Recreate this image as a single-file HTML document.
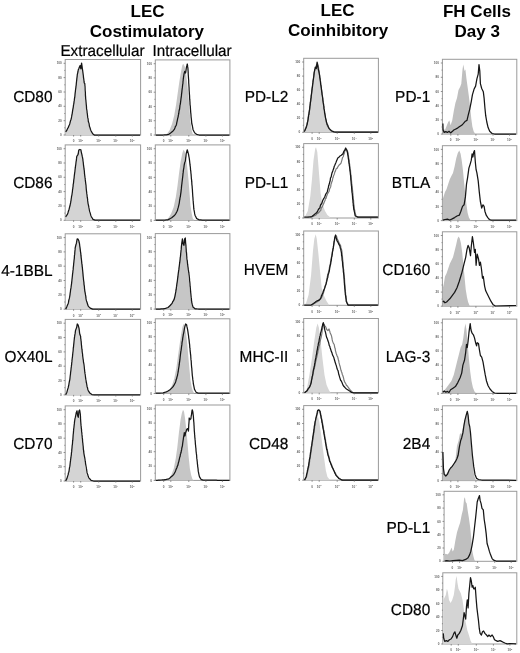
<!DOCTYPE html><html><head><meta charset="utf-8"><style>html,body{margin:0;padding:0;background:#fff;}svg{display:block;will-change:transform;}text{font-family:"Liberation Sans",sans-serif;}</style></head><body>
<svg width="520" height="653" viewBox="0 0 520 653">
<text x="147.6" y="16.6" font-size="17" font-weight="bold" text-anchor="middle" fill="#000">LEC</text>
<text x="146.9" y="37.3" font-size="17" font-weight="bold" text-anchor="middle" fill="#000">Costimulatory</text>
<text transform="translate(102.5,56.0) scale(1,1.03)" font-size="15.3" text-anchor="middle" fill="#000" stroke="#000" stroke-width="0.2" text-rendering="geometricPrecision">Extracellular</text>
<text transform="translate(192.1,56.0) scale(1,1.03)" font-size="15.3" text-anchor="middle" fill="#000" stroke="#000" stroke-width="0.2" text-rendering="geometricPrecision">Intracellular</text>
<text x="337.5" y="16.1" font-size="17" font-weight="bold" text-anchor="middle" fill="#000">LEC</text>
<text x="338.1" y="35.6" font-size="17" font-weight="bold" text-anchor="middle" fill="#000">Coinhibitory</text>
<text x="477.0" y="16.7" font-size="17" font-weight="bold" text-anchor="middle" fill="#000">FH Cells</text>
<text x="477.2" y="36.9" font-size="17" font-weight="bold" text-anchor="middle" fill="#000">Day 3</text>
<text transform="translate(52.5,101.8) scale(1,1.03)" font-size="15.4" text-anchor="end" fill="#000" stroke="#000" stroke-width="0.2" text-rendering="geometricPrecision">CD80</text>
<text transform="translate(52.5,188.1) scale(1,1.03)" font-size="15.4" text-anchor="end" fill="#000" stroke="#000" stroke-width="0.2" text-rendering="geometricPrecision">CD86</text>
<text transform="translate(52.5,275.9) scale(1,1.03)" font-size="15.4" text-anchor="end" fill="#000" stroke="#000" stroke-width="0.2" text-rendering="geometricPrecision">4-1BBL</text>
<text transform="translate(52.5,362.2) scale(1,1.03)" font-size="15.4" text-anchor="end" fill="#000" stroke="#000" stroke-width="0.2" text-rendering="geometricPrecision">OX40L</text>
<text transform="translate(52.5,449.2) scale(1,1.03)" font-size="15.4" text-anchor="end" fill="#000" stroke="#000" stroke-width="0.2" text-rendering="geometricPrecision">CD70</text>
<text transform="translate(288.3,102.0) scale(1,1.03)" font-size="15.4" text-anchor="end" fill="#000" stroke="#000" stroke-width="0.2" text-rendering="geometricPrecision">PD-L2</text>
<text transform="translate(288.3,187.9) scale(1,1.03)" font-size="15.4" text-anchor="end" fill="#000" stroke="#000" stroke-width="0.2" text-rendering="geometricPrecision">PD-L1</text>
<text transform="translate(288.3,275.2) scale(1,1.03)" font-size="15.4" text-anchor="end" fill="#000" stroke="#000" stroke-width="0.2" text-rendering="geometricPrecision">HVEM</text>
<text transform="translate(288.3,361.6) scale(1,1.03)" font-size="15.4" text-anchor="end" fill="#000" stroke="#000" stroke-width="0.2" text-rendering="geometricPrecision">MHC-II</text>
<text transform="translate(288.3,449.0) scale(1,1.03)" font-size="15.4" text-anchor="end" fill="#000" stroke="#000" stroke-width="0.2" text-rendering="geometricPrecision">CD48</text>
<text transform="translate(430.2,101.5) scale(1,1.03)" font-size="15.4" text-anchor="end" fill="#000" stroke="#000" stroke-width="0.2" text-rendering="geometricPrecision">PD-1</text>
<text transform="translate(430.2,188.3) scale(1,1.03)" font-size="15.4" text-anchor="end" fill="#000" stroke="#000" stroke-width="0.2" text-rendering="geometricPrecision">BTLA</text>
<text transform="translate(430.2,275.3) scale(1,1.03)" font-size="15.4" text-anchor="end" fill="#000" stroke="#000" stroke-width="0.2" text-rendering="geometricPrecision">CD160</text>
<text transform="translate(430.2,361.9) scale(1,1.03)" font-size="15.4" text-anchor="end" fill="#000" stroke="#000" stroke-width="0.2" text-rendering="geometricPrecision">LAG-3</text>
<text transform="translate(430.2,448.9) scale(1,1.03)" font-size="15.4" text-anchor="end" fill="#000" stroke="#000" stroke-width="0.2" text-rendering="geometricPrecision">2B4</text>
<text transform="translate(430.2,533.3) scale(1,1.03)" font-size="15.4" text-anchor="end" fill="#000" stroke="#000" stroke-width="0.2" text-rendering="geometricPrecision">PD-L1</text>
<text transform="translate(430.2,614.6) scale(1,1.03)" font-size="15.4" text-anchor="end" fill="#000" stroke="#000" stroke-width="0.2" text-rendering="geometricPrecision">CD80</text>
<rect x="65.2" y="59.5" width="75.4" height="75.5" fill="none" stroke="#9a9a9a" stroke-width="1"/>
<path d="M65.7,135 L65.7,131.8 L66.9,130.2 L68.2,127.7 L69.8,123.7 L71.4,117.1 L73.1,107.3 L74.7,95.9 L76.3,82.8 L77.7,73 L78.8,68.1 L79.9,65.6 L80.9,64.8 L82.1,68.1 L83.2,76.2 L84.2,86.1 L85.2,97.5 L86.2,108.9 L87.5,118.8 L88.8,125.3 L90.2,130.2 L91.9,133.5 L93.5,135 L93.5,135 L65.7,135Z" fill="#d4d4d4"/>
<path d="M65.7,131.8 L66.9,130.2 L67.5,128.6 L68.2,127.7 L68.7,126.2 L69.3,124.9 L69.8,123.7 L70.2,122 L70.6,120.5 L71,119.5 L71.4,117.9 L71.7,116.2 L71.9,114.8 L72.1,114.3 L72.4,112.2 L72.6,110.9 L72.8,109.5 L73.1,108.1 L73.3,106.8 L73.5,105.1 L73.7,104.2 L73.9,103.1 L74.1,101.2 L74.3,100.4 L74.5,98.4 L74.7,97.5 L74.9,96 L75,94.6 L75.2,92.6 L75.4,91.3 L75.5,90 L75.7,88.7 L75.9,87.3 L76,86.1 L76.2,85.2 L76.3,83.6 L76.5,81.8 L76.7,80.2 L76.8,78.9 L77,77.4 L77.2,75.8 L77.3,74.6 L77.7,72.8 L78,71.5 L78.3,69.7 L78.8,68.7 L79.3,67.3 L80.1,65.6 L80.5,67.5 L80.9,68.9 L81.1,67.5 L81.2,65.8 L81.4,64.4 L81.6,63.2 L81.8,64.6 L82,65.8 L82.2,67.3 L82.4,69 L82.6,70.1 L82.8,71.7 L83,73.1 L83.2,74.6 L83.4,76 L83.5,77.7 L83.7,78.7 L83.9,80.2 L84,81.2 L84.2,82.8 L84.8,83.6 L84.9,85.6 L85,86.2 L85.1,88 L85.1,89 L85.2,90.7 L85.3,91.6 L85.4,92.9 L85.4,94.4 L85.5,95.9 L85.6,97.1 L85.7,99 L85.9,100.3 L86,102 L86.1,102.7 L86.2,104.1 L86.4,105.6 L86.5,107.3 L86.6,108.9 L86.8,109.8 L87,111 L87.1,112.6 L87.3,113.6 L87.5,115.3 L87.6,116.5 L87.8,117.9 L88.1,119 L88.3,121.2 L88.6,122.2 L88.9,122.9 L89.2,124.7 L89.4,126.1 L90,127.8 L90.5,129.5 L91.1,131 L91.9,132.4 L92.7,133.8 L94.3,135 L96,135 L97.6,135 L98.9,135 L100.3,135 L101.6,135 L102.9,135 L104.2,135 L105.6,135 L106.9,135 L108.2,135 L109.5,135 L110.9,135 L112.2,135 L113.5,135 L114.9,135 L116.2,135 L117.5,135 L118.8,135 L120.2,135 L121.5,135 L122.8,135 L124.2,135 L125.5,135 L126.8,135 L128.1,135 L129.5,135 L130.8,135 L132.1,135 L133.5,135 L134.8,135 L136.1,135 L137.4,135 L138.8,135 L140.1,135" fill="none" stroke="#161616" stroke-width="1.25" stroke-linejoin="round"/>
<path d="M63.6,135H65.2M64.3,127.8H65.2M63.6,120.7H65.2M64.3,113.5H65.2M63.6,106.3H65.2M64.3,99.1H65.2M63.6,92H65.2M64.3,84.8H65.2M63.6,77.6H65.2M64.3,70.4H65.2M63.6,63.3H65.2M73.6,135V136.6M80.7,135V136.6M98.7,135V136.6M115.8,135V136.6M132.3,135V136.6" stroke="#666" stroke-width="0.7" fill="none"/>
<g font-size="3.1" font-weight="bold" fill="#666"><text x="61.8" y="136.1" text-anchor="end">0</text><text x="61.8" y="121.8" text-anchor="end">20</text><text x="61.8" y="107.4" text-anchor="end">40</text><text x="61.8" y="93.1" text-anchor="end">60</text><text x="61.8" y="78.7" text-anchor="end">80</text><text x="61.8" y="64.4" text-anchor="end">100</text><text x="73.5" y="142.3" text-anchor="middle">0</text><text x="80.6" y="142.3" text-anchor="middle">10<tspan dy="-1.1" font-size="2.2">2</tspan></text><text x="98.6" y="142.3" text-anchor="middle">10<tspan dy="-1.1" font-size="2.2">3</tspan></text><text x="115.7" y="142.3" text-anchor="middle">10<tspan dy="-1.1" font-size="2.2">4</tspan></text><text x="132.2" y="142.3" text-anchor="middle">10<tspan dy="-1.1" font-size="2.2">5</tspan></text></g>
<rect x="65.2" y="144.9" width="75.4" height="75.4" fill="none" stroke="#9a9a9a" stroke-width="1"/>
<path d="M65.7,220.1 L65.7,217.6 L67.4,215.2 L69,210.3 L70.6,203.8 L72.3,193.9 L73.9,180.9 L75.5,167.8 L77.2,156.3 L78.3,152.3 L79.6,149.8 L80.9,150.6 L82.1,154.7 L83.2,162.9 L84.5,174.3 L85.8,187.4 L87.1,200.5 L88.6,210.3 L90.2,216 L91.9,218.8 L94.3,220.1 L94.3,220.3 L65.7,220.3Z" fill="#d4d4d4"/>
<path d="M65.7,216.8 L66.5,215.7 L67.4,214.4 L67.9,213 L68.4,211.3 L69,209.5 L69.3,208.3 L69.6,207 L70,205.8 L70.3,204.2 L70.6,202.9 L70.8,201.4 L71,200.6 L71.2,199 L71.4,197.7 L71.6,196.1 L71.9,195.1 L72.1,193.5 L72.3,192.3 L72.4,191.5 L72.6,189.3 L72.8,188.6 L72.9,187.3 L73.1,186.3 L73.2,184.4 L73.4,183.6 L73.6,182.1 L73.7,180.6 L73.9,179.2 L74.1,178.2 L74.2,176.7 L74.4,174.9 L74.5,174.3 L74.7,172.6 L74.9,171.5 L75,170.3 L75.2,168.6 L75.4,167.2 L75.5,166.2 L75.7,165 L75.9,163.3 L76.1,161.7 L76.3,160.6 L76.5,158.9 L76.6,157.6 L76.8,156.3 L78,154.7 L78.3,153.5 L78.6,151 L79,149.8 L79.9,149.5 L80.9,149.8 L81.2,151.6 L81.6,153.3 L81.9,154.7 L82.2,156.2 L82.6,157.8 L82.9,159.6 L83,161 L83.2,162 L83.4,164 L83.5,165.2 L83.7,166.3 L83.9,167.8 L84,169 L84.2,169.9 L84.4,171.7 L84.5,173.6 L84.7,175.2 L84.8,176 L85,177.4 L85.2,178.6 L85.3,179.9 L85.5,181.6 L85.7,183 L85.8,184.1 L86,185.2 L86.1,186.8 L86.2,188.3 L86.4,190.2 L86.5,191.1 L86.7,192.5 L86.8,193.9 L87,194.9 L87.2,197.2 L87.4,198.2 L87.6,199.2 L87.7,200.9 L87.9,202.3 L88.1,203.8 L88.4,205 L88.7,206.4 L88.9,207.7 L89.2,209.3 L89.5,210.8 L89.8,211.9 L90.3,213.5 L90.8,215.4 L91.4,216.8 L92.2,218 L93,219.3 L95.1,220.1 L96.5,220.1 L97.8,220.1 L99.1,220.1 L100.4,220.1 L101.8,220.1 L103.1,220.1 L104.4,220.1 L105.7,220.1 L107,220.1 L108.4,220.1 L109.7,220.1 L111,220.1 L112.3,220.1 L113.7,220.1 L115,220.1 L116.3,220.1 L117.6,220.1 L118.9,220.1 L120.3,220.1 L121.6,220.1 L122.9,220.1 L124.2,220.1 L125.6,220.1 L126.9,220.1 L128.2,220.1 L129.5,220.1 L130.8,220.1 L132.2,220.1 L133.5,220.1 L134.8,220.1 L136.1,220.1 L137.5,220.1 L138.8,220.1 L140.1,220.1" fill="none" stroke="#161616" stroke-width="1.25" stroke-linejoin="round"/>
<path d="M63.6,220.3H65.2M64.3,213.1H65.2M63.6,206H65.2M64.3,198.8H65.2M63.6,191.6H65.2M64.3,184.5H65.2M63.6,177.3H65.2M64.3,170.2H65.2M63.6,163H65.2M64.3,155.8H65.2M63.6,148.7H65.2M73.6,220.3V221.9M80.7,220.3V221.9M98.7,220.3V221.9M115.8,220.3V221.9M132.3,220.3V221.9" stroke="#666" stroke-width="0.7" fill="none"/>
<g font-size="3.1" font-weight="bold" fill="#666"><text x="61.8" y="221.4" text-anchor="end">0</text><text x="61.8" y="207.1" text-anchor="end">20</text><text x="61.8" y="192.7" text-anchor="end">40</text><text x="61.8" y="178.4" text-anchor="end">60</text><text x="61.8" y="164.1" text-anchor="end">80</text><text x="61.8" y="149.8" text-anchor="end">100</text><text x="73.5" y="227.6" text-anchor="middle">0</text><text x="80.6" y="227.6" text-anchor="middle">10<tspan dy="-1.1" font-size="2.2">2</tspan></text><text x="98.6" y="227.6" text-anchor="middle">10<tspan dy="-1.1" font-size="2.2">3</tspan></text><text x="115.7" y="227.6" text-anchor="middle">10<tspan dy="-1.1" font-size="2.2">4</tspan></text><text x="132.2" y="227.6" text-anchor="middle">10<tspan dy="-1.1" font-size="2.2">5</tspan></text></g>
<rect x="65.2" y="233.8" width="75.4" height="75.4" fill="none" stroke="#9a9a9a" stroke-width="1"/>
<path d="M65.7,309.1 L66.5,307.5 L67.8,304.2 L69.5,297.7 L71.1,287.8 L72.8,274.8 L74.4,258.4 L75.7,247 L76.8,241.3 L78,238.8 L79.1,241.3 L80.3,247 L81.6,256.8 L82.9,269.9 L84.2,282.9 L85.5,294.4 L87.1,302.6 L89.1,307.1 L91.1,309.1 L91.1,309.2 L65.7,309.2Z" fill="#d4d4d4"/>
<path d="M65.7,309.1 L66.3,307.9 L66.9,306.6 L67.5,305.1 L68.2,303.4 L68.5,302.4 L68.8,300.2 L69.2,298.9 L69.5,297.7 L69.8,296 L70,294.6 L70.2,292.9 L70.4,291.8 L70.6,289.7 L70.8,288.8 L71,287.7 L71.2,286.1 L71.4,284.6 L71.6,283.3 L71.7,282.1 L71.9,280.5 L72,279.3 L72.2,277.8 L72.3,276.7 L72.5,274.9 L72.6,273.6 L72.8,272.6 L72.9,271.2 L73.1,269.9 L73.2,269 L73.3,267.1 L73.5,266 L73.6,264.7 L73.7,263.4 L73.9,261.8 L74,260.6 L74.1,259.9 L74.3,258.3 L74.4,256.8 L74.5,255.1 L74.7,254.4 L74.8,252.2 L74.9,251.4 L75.1,249.4 L75.2,247.9 L75.4,247 L75.9,244.8 L76.3,243.7 L76.6,242.2 L76.9,240.3 L77.2,238.8 L78,239.1 L79,241.3 L79.2,242.8 L79.5,243.6 L79.7,245.5 L79.9,247 L80.1,248.4 L80.3,249.8 L80.4,251.1 L80.6,252.1 L80.8,253.6 L80.9,255.2 L81.1,256.6 L81.2,258 L81.4,259.2 L81.6,261 L81.7,262.3 L81.9,263.9 L82.1,265.2 L82.2,266.6 L82.4,267.7 L82.5,269.2 L82.6,270.1 L82.8,272 L82.9,273.4 L83,274.3 L83.1,275.6 L83.3,277.5 L83.4,278.2 L83.5,279.7 L83.7,281 L83.9,282.4 L84,284.3 L84.2,285.4 L84.4,286.7 L84.5,288.6 L84.7,289.8 L84.8,291.1 L85.1,292.5 L85.3,293.7 L85.5,294.9 L85.8,296.4 L86,298.4 L86.2,299.7 L86.5,300.9 L87,302.3 L87.6,304.2 L88.1,305.8 L89.2,307.1 L90.2,308.1 L91.5,308.6 L92.7,309.1 L94,309.1 L95.3,309.1 L96.6,309.1 L98,309.1 L99.3,309.1 L100.6,309.1 L101.9,309.1 L103.2,309.1 L104.5,309.1 L105.9,309.1 L107.2,309.1 L108.5,309.1 L109.8,309.1 L111.1,309.1 L112.4,309.1 L113.8,309.1 L115.1,309.1 L116.4,309.1 L117.7,309.1 L119,309.1 L120.3,309.1 L121.7,309.1 L123,309.1 L124.3,309.1 L125.6,309.1 L126.9,309.1 L128.2,309.1 L129.6,309.1 L130.9,309.1 L132.2,309.1 L133.5,309.1 L134.8,309.1 L136.1,309.1 L137.5,309.1 L138.8,309.1 L140.1,309.1" fill="none" stroke="#161616" stroke-width="1.25" stroke-linejoin="round"/>
<path d="M63.6,309.2H65.2M64.3,302H65.2M63.6,294.9H65.2M64.3,287.7H65.2M63.6,280.5H65.2M64.3,273.4H65.2M63.6,266.2H65.2M64.3,259.1H65.2M63.6,251.9H65.2M64.3,244.7H65.2M63.6,237.6H65.2M73.6,309.2V310.8M80.7,309.2V310.8M98.7,309.2V310.8M115.8,309.2V310.8M132.3,309.2V310.8" stroke="#666" stroke-width="0.7" fill="none"/>
<g font-size="3.1" font-weight="bold" fill="#666"><text x="61.8" y="310.3" text-anchor="end">0</text><text x="61.8" y="296" text-anchor="end">20</text><text x="61.8" y="281.6" text-anchor="end">40</text><text x="61.8" y="267.3" text-anchor="end">60</text><text x="61.8" y="253" text-anchor="end">80</text><text x="61.8" y="238.7" text-anchor="end">100</text><text x="73.5" y="316.5" text-anchor="middle">0</text><text x="80.6" y="316.5" text-anchor="middle">10<tspan dy="-1.1" font-size="2.2">2</tspan></text><text x="98.6" y="316.5" text-anchor="middle">10<tspan dy="-1.1" font-size="2.2">3</tspan></text><text x="115.7" y="316.5" text-anchor="middle">10<tspan dy="-1.1" font-size="2.2">4</tspan></text><text x="132.2" y="316.5" text-anchor="middle">10<tspan dy="-1.1" font-size="2.2">5</tspan></text></g>
<rect x="65.2" y="319.4" width="75.4" height="75.5" fill="none" stroke="#9a9a9a" stroke-width="1"/>
<path d="M65.7,394.8 L66.9,392.6 L68.2,388.6 L69.8,380.4 L71.4,367.3 L73.1,352.6 L74.4,339.5 L75.5,331.3 L76.7,326.4 L77.7,324 L78.6,325.6 L79.6,331.3 L80.9,341.2 L82.2,352.6 L83.5,365.7 L84.8,377.1 L86.5,385.3 L88.1,390.5 L90.2,393.8 L91.9,394.8 L91.9,394.9 L65.7,394.9Z" fill="#d4d4d4"/>
<path d="M65.7,394.8 L66.3,393.5 L66.9,392.2 L67.3,390.6 L67.7,389.1 L68.2,387.7 L68.4,386.5 L68.7,385.5 L69,383.6 L69.3,381.9 L69.5,381 L69.8,379.6 L70,378 L70.1,377 L70.3,375.2 L70.5,374 L70.6,372.3 L70.8,371.1 L71,369.5 L71.1,368.3 L71.3,366.9 L71.4,365.7 L71.6,364.8 L71.7,362.8 L71.9,361.9 L72,360.2 L72.2,358.8 L72.3,357.8 L72.5,356.5 L72.6,355.1 L72.8,353.3 L72.9,352.4 L73.1,351 L73.2,349.8 L73.3,347.8 L73.5,347 L73.6,345.8 L73.7,344.6 L73.9,342.9 L74,341.8 L74.1,340.8 L74.3,339 L74.4,337.9 L74.6,336.7 L74.8,335.1 L75.1,333.7 L75.3,332.2 L75.5,330.5 L76.1,328.9 L76.7,327.3 L77,325.4 L77.3,324 L78,324.8 L78.5,326.4 L79,328.1 L79.2,329.6 L79.4,331 L79.5,332.3 L79.7,333.5 L79.9,334.6 L80.6,336.2 L80.7,338.3 L80.9,339.2 L81,340.5 L81.2,341.6 L81.3,343.3 L81.4,344.5 L81.6,346.1 L81.7,347.5 L81.9,349.2 L82.1,350.2 L82.2,352 L82.4,353 L82.6,354.5 L82.7,356.1 L82.9,357.5 L83.1,359.1 L83.3,360 L83.5,362.2 L83.7,363.1 L83.9,364 L84,364.9 L84.2,366.4 L84.4,368.6 L84.5,369.2 L84.7,371.2 L84.8,372.2 L85,373.7 L85.2,374.7 L85.4,376.4 L85.6,377.9 L85.8,379.2 L86,380.2 L86.2,382 L86.5,383 L86.8,384.8 L87.1,386.7 L87.5,387.7 L87.8,389.4 L88.4,390.8 L89.1,391.9 L89.8,393.1 L91.9,394.6 L94.3,394.8 L95.6,394.8 L96.9,394.8 L98.2,394.8 L99.6,394.8 L100.9,394.8 L102.2,394.8 L103.5,394.8 L104.8,394.8 L106.1,394.8 L107.4,394.8 L108.7,394.8 L110,394.8 L111.3,394.8 L112.6,394.8 L113.9,394.8 L115.3,394.8 L116.6,394.8 L117.9,394.8 L119.2,394.8 L120.5,394.8 L121.8,394.8 L123.1,394.8 L124.4,394.8 L125.7,394.8 L127,394.8 L128.3,394.8 L129.6,394.8 L130.9,394.8 L132.3,394.8 L133.6,394.8 L134.9,394.8 L136.2,394.8 L137.5,394.8 L138.8,394.8 L140.1,394.8" fill="none" stroke="#161616" stroke-width="1.25" stroke-linejoin="round"/>
<path d="M63.6,394.9H65.2M64.3,387.7H65.2M63.6,380.6H65.2M64.3,373.4H65.2M63.6,366.2H65.2M64.3,359H65.2M63.6,351.9H65.2M64.3,344.7H65.2M63.6,337.5H65.2M64.3,330.3H65.2M63.6,323.2H65.2M73.6,394.9V396.5M80.7,394.9V396.5M98.7,394.9V396.5M115.8,394.9V396.5M132.3,394.9V396.5" stroke="#666" stroke-width="0.7" fill="none"/>
<g font-size="3.1" font-weight="bold" fill="#666"><text x="61.8" y="396" text-anchor="end">0</text><text x="61.8" y="381.7" text-anchor="end">20</text><text x="61.8" y="367.3" text-anchor="end">40</text><text x="61.8" y="353" text-anchor="end">60</text><text x="61.8" y="338.6" text-anchor="end">80</text><text x="61.8" y="324.3" text-anchor="end">100</text><text x="73.5" y="402.2" text-anchor="middle">0</text><text x="80.6" y="402.2" text-anchor="middle">10<tspan dy="-1.1" font-size="2.2">2</tspan></text><text x="98.6" y="402.2" text-anchor="middle">10<tspan dy="-1.1" font-size="2.2">3</tspan></text><text x="115.7" y="402.2" text-anchor="middle">10<tspan dy="-1.1" font-size="2.2">4</tspan></text><text x="132.2" y="402.2" text-anchor="middle">10<tspan dy="-1.1" font-size="2.2">5</tspan></text></g>
<rect x="65.2" y="405.9" width="75.4" height="75.1" fill="none" stroke="#9a9a9a" stroke-width="1"/>
<path d="M65.7,481 L66.9,479.1 L68.2,475.4 L69.8,468 L71.4,454.9 L73.1,438.6 L74.4,425.5 L75.7,416.5 L76.8,412.4 L78,410.8 L79.1,413.3 L80.3,420.6 L81.6,432.1 L82.9,445.1 L84.2,458.2 L85.5,468 L87.1,475.4 L89.1,479.5 L91.1,481 L91.1,481 L65.7,481Z" fill="#d4d4d4"/>
<path d="M65.7,481 L66.3,479.8 L66.9,478.6 L67.3,477.3 L67.7,475.9 L68.2,474.6 L68.4,472.9 L68.7,472.2 L69,471.3 L69.3,469.2 L69.5,467.6 L69.8,466.4 L70,465.1 L70.1,464.1 L70.3,462.2 L70.5,460.9 L70.6,459.7 L70.8,458.3 L71,457.2 L71.1,456 L71.3,455.2 L71.4,453.3 L71.6,451.9 L71.7,451.4 L71.8,449.4 L72,448 L72.1,446.6 L72.2,445.4 L72.4,444.3 L72.5,443.2 L72.6,441.3 L72.8,440.2 L72.9,439 L73,437.4 L73.1,436 L73.2,434.5 L73.4,433 L73.5,431.4 L73.6,430.4 L73.7,428.8 L73.9,427.8 L74.1,425.9 L74.2,424.8 L74.4,423.4 L74.5,421.8 L74.7,420.6 L75,418.6 L75.4,417.2 L75.7,415.7 L76,414.1 L76.3,412.4 L77,410.8 L77.2,412.4 L77.4,414.1 L77.7,415.7 L78.3,417.3 L78.4,415.9 L78.6,414.6 L78.7,413.5 L78.8,412.1 L79,410.8 L79.6,410 L79.8,410.9 L80.1,412.8 L80.3,414.1 L80.4,415.3 L80.5,417 L80.5,418.1 L80.6,419.4 L80.7,421.1 L80.8,422.5 L80.9,423.9 L81.1,425.9 L81.2,426.5 L81.3,428.1 L81.5,429.2 L81.6,431.4 L81.8,432.6 L81.9,433.7 L82,434.9 L82.2,436.4 L82.3,437.9 L82.5,439.1 L82.6,441.3 L82.7,442.3 L82.9,443.5 L83,445 L83.2,446.3 L83.3,448.1 L83.4,449.5 L83.6,450.4 L83.7,451.7 L83.9,453.3 L84.2,455.1 L84.5,456.7 L84.8,458.2 L85,459.5 L85.2,461.2 L85.4,462.2 L85.6,463.8 L85.8,464.8 L86,466 L86.3,467.5 L86.5,468.9 L86.7,470.1 L86.9,471.5 L87.1,472.9 L87.7,474.5 L88.2,476.3 L88.8,477.8 L89.9,479 L91.1,480.3 L93.5,481 L94.8,481 L96.2,481 L97.5,481 L98.8,481 L100.2,481 L101.5,481 L102.8,481 L104.2,481 L105.5,481 L106.8,481 L108.2,481 L109.5,481 L110.8,481 L112.1,481 L113.5,481 L114.8,481 L116.1,481 L117.5,481 L118.8,481 L120.1,481 L121.5,481 L122.8,481 L124.1,481 L125.5,481 L126.8,481 L128.1,481 L129.4,481 L130.8,481 L132.1,481 L133.4,481 L134.8,481 L136.1,481 L137.4,481 L138.8,481 L140.1,481" fill="none" stroke="#161616" stroke-width="1.25" stroke-linejoin="round"/>
<path d="M63.6,481H65.2M64.3,473.9H65.2M63.6,466.7H65.2M64.3,459.6H65.2M63.6,452.5H65.2M64.3,445.3H65.2M63.6,438.2H65.2M64.3,431.1H65.2M63.6,423.9H65.2M64.3,416.8H65.2M63.6,409.7H65.2M73.6,481V482.6M80.7,481V482.6M98.7,481V482.6M115.8,481V482.6M132.3,481V482.6" stroke="#666" stroke-width="0.7" fill="none"/>
<g font-size="3.1" font-weight="bold" fill="#666"><text x="61.8" y="482.1" text-anchor="end">0</text><text x="61.8" y="467.8" text-anchor="end">20</text><text x="61.8" y="453.6" text-anchor="end">40</text><text x="61.8" y="439.3" text-anchor="end">60</text><text x="61.8" y="425" text-anchor="end">80</text><text x="61.8" y="410.8" text-anchor="end">100</text><text x="73.5" y="488.3" text-anchor="middle">0</text><text x="80.6" y="488.3" text-anchor="middle">10<tspan dy="-1.1" font-size="2.2">2</tspan></text><text x="98.6" y="488.3" text-anchor="middle">10<tspan dy="-1.1" font-size="2.2">3</tspan></text><text x="115.7" y="488.3" text-anchor="middle">10<tspan dy="-1.1" font-size="2.2">4</tspan></text><text x="132.2" y="488.3" text-anchor="middle">10<tspan dy="-1.1" font-size="2.2">5</tspan></text></g>
<rect x="155.3" y="59.9" width="74.6" height="75.1" fill="none" stroke="#9a9a9a" stroke-width="1"/>
<path d="M164.7,135 L167.2,133.5 L169.6,130.2 L172.1,123.7 L174.2,115.5 L176.2,104 L177.8,92.6 L179.4,81.2 L181.1,71.3 L182.4,64.8 L183.5,64 L184.7,66.4 L186,73 L187.3,84.4 L188.6,97.5 L189.6,110.6 L190.5,122 L191.7,130.2 L192.8,134.3 L194.1,135 L194.1,135 L164.7,135Z" fill="#c6c6c6"/>
<path d="M155.8,135 L157.3,135 L158.7,135 L160.2,135 L161.6,135 L163.1,135 L164.7,134.9 L166.3,134.8 L168.8,134.3 L170,133.4 L171.2,132.6 L172.5,131.6 L173.7,130.2 L174.3,129.4 L174.9,128 L175.5,126.3 L176.2,125.3 L176.5,124.4 L176.8,122.5 L177.1,121.3 L177.5,119.3 L177.8,117.9 L178.1,117.1 L178.3,115.4 L178.6,114.4 L178.8,113.2 L179,111.3 L179.3,109.6 L179.5,109.8 L179.8,107.3 L180,105.2 L180.2,104.5 L180.4,103.7 L180.6,101.9 L180.8,100.4 L181,98.7 L181.2,97.3 L181.4,95.9 L181.5,94.6 L181.7,93.1 L181.9,91.4 L182,90.3 L182.2,88.6 L182.4,87.4 L182.5,86.2 L182.7,84.4 L182.9,83.7 L183,81.7 L183.2,80.3 L183.3,78.8 L183.5,77.5 L183.7,76.2 L184,74.2 L184.3,72.8 L184.7,71.3 L185.6,73 L185.9,71.2 L186.1,69.6 L186.3,68.1 L186.6,66.5 L186.9,65.5 L187.3,64 L187.5,65.1 L187.7,66.9 L187.9,68.1 L188,69.6 L188.1,71 L188.2,72.6 L188.2,73.6 L188.3,75.2 L188.4,76.5 L188.5,78.2 L188.6,79.5 L188.7,80.8 L188.7,82.7 L188.8,83.8 L188.9,85.2 L189,86.7 L189.1,88.1 L189.1,89.1 L189.2,91 L189.3,92 L189.4,94.1 L189.5,94.9 L189.6,96.4 L189.6,97.1 L189.7,99.2 L189.8,99.9 L189.9,101.4 L190,102.7 L190,104 L190.2,105.6 L190.3,106 L190.4,107.9 L190.5,109.3 L190.6,110.6 L190.7,112.3 L190.9,113.8 L191,115.2 L191.1,116.8 L191.3,118.4 L191.4,119.3 L191.6,121.3 L191.7,122.6 L191.8,123.7 L192.1,124.7 L192.4,126 L192.7,127.7 L193,129.4 L193.7,130.9 L194.5,132.6 L195.5,133.5 L196.6,134.3 L199,135 L200.4,135 L201.7,135 L203,135 L204.3,135 L205.6,135 L207,135 L208.3,135 L209.6,135 L210.9,135 L212.2,135 L213.6,135 L214.9,135 L216.2,135 L217.5,135 L218.8,135 L220.2,135 L221.5,135 L222.8,135 L224.1,135 L225.4,135 L226.8,135 L228.1,135 L229.4,135" fill="none" stroke="#161616" stroke-width="1.25" stroke-linejoin="round"/>
<path d="M153.7,135H155.3M154.4,127.9H155.3M153.7,120.7H155.3M154.4,113.6H155.3M153.7,106.5H155.3M154.4,99.3H155.3M153.7,92.2H155.3M154.4,85.1H155.3M153.7,77.9H155.3M154.4,70.8H155.3M153.7,63.7H155.3M163.7,135V136.6M170.8,135V136.6M188.8,135V136.6M205.9,135V136.6M222.4,135V136.6" stroke="#666" stroke-width="0.7" fill="none"/>
<g font-size="3.1" font-weight="bold" fill="#666"><text x="151.9" y="136.1" text-anchor="end">0</text><text x="151.9" y="121.8" text-anchor="end">20</text><text x="151.9" y="107.6" text-anchor="end">40</text><text x="151.9" y="93.3" text-anchor="end">60</text><text x="151.9" y="79" text-anchor="end">80</text><text x="151.9" y="64.8" text-anchor="end">100</text><text x="163.6" y="142.3" text-anchor="middle">0</text><text x="170.7" y="142.3" text-anchor="middle">10<tspan dy="-1.1" font-size="2.2">2</tspan></text><text x="188.7" y="142.3" text-anchor="middle">10<tspan dy="-1.1" font-size="2.2">3</tspan></text><text x="205.8" y="142.3" text-anchor="middle">10<tspan dy="-1.1" font-size="2.2">4</tspan></text><text x="222.3" y="142.3" text-anchor="middle">10<tspan dy="-1.1" font-size="2.2">5</tspan></text></g>
<rect x="155.3" y="144.9" width="74.6" height="75.5" fill="none" stroke="#9a9a9a" stroke-width="1"/>
<path d="M166.3,220.1 L168.8,217.6 L171.2,213.6 L173.7,207 L175.8,197.2 L177.5,185.8 L179.1,172.7 L180.7,161.2 L182.4,153.1 L183.5,149.8 L184.7,151.4 L186,158 L187.3,167.8 L188.6,180.9 L189.6,193.9 L190.5,205.4 L191.7,213.6 L192.8,218.5 L194.1,220.1 L194.1,220.4 L166.3,220.4Z" fill="#c6c6c6"/>
<path d="M155.8,220.1 L157.3,220.1 L158.8,220.1 L160.3,220.1 L161.7,220.1 L163.2,220.1 L164.7,220.1 L166.3,219.9 L168,219.8 L169.2,219.1 L170.4,218.5 L171.7,217.8 L172.9,216.8 L174.1,215.8 L175.3,214.4 L176,213.2 L176.8,211.7 L177.5,210.3 L177.8,208.9 L178.1,207.9 L178.4,206.8 L178.8,205.1 L179.1,203.8 L179.3,202.8 L179.6,200.4 L179.8,199.7 L180,197.9 L180.3,196.8 L180.5,195.3 L180.7,193.9 L180.9,192.6 L181.1,191 L181.2,189.8 L181.4,188.4 L181.5,186.9 L181.7,185 L181.9,183.6 L182,182.5 L182.2,181 L182.4,179.3 L182.5,178.3 L182.7,176.9 L182.9,175 L183,173.7 L183.2,172.4 L183.3,171.1 L183.5,169.7 L183.7,168.6 L183.9,167.5 L184.1,165.7 L184.3,164.5 L184.8,162.3 L185.3,161.2 L185.5,160.1 L185.6,158.9 L185.8,157.7 L186,155.9 L186.1,154.5 L186.3,153.1 L186.8,151.5 L187.3,149.8 L187.8,151.6 L188.2,153.1 L188.6,154.7 L188.9,156.5 L189.2,158 L189.4,159.4 L189.6,160.8 L189.7,162 L189.9,163.6 L190,164.7 L190.2,166.2 L190.4,167.4 L190.5,169.4 L190.6,170.5 L190.8,171.3 L190.9,173 L191.1,174.4 L191.2,176 L191.3,177.3 L191.4,178.8 L191.6,179.9 L191.7,181.7 L191.8,182.4 L191.9,184.6 L192.1,185.8 L192.2,187.4 L192.3,188.8 L192.4,189.5 L192.5,191.7 L192.6,193.2 L192.7,194.7 L192.8,196.5 L192.9,197.1 L193,198.8 L193.1,200.4 L193.2,200.8 L193.3,202.7 L193.5,204.8 L193.6,205.8 L193.7,207.6 L193.8,208.7 L194,209.9 L194.3,211.4 L194.5,212.5 L194.7,213.9 L195,215.2 L195.8,216.7 L196.6,218.5 L197.8,219.1 L199,219.8 L200.7,219.9 L202.3,220.1 L203.7,220.1 L205,220.1 L206.4,220.1 L207.7,220.1 L209.1,220.1 L210.4,220.1 L211.8,220.1 L213.1,220.1 L214.5,220.1 L215.9,220.1 L217.2,220.1 L218.6,220.1 L219.9,220.1 L221.3,220.1 L222.6,220.1 L224,220.1 L225.3,220.1 L226.7,220.1 L228,220.1 L229.4,220.1" fill="none" stroke="#161616" stroke-width="1.25" stroke-linejoin="round"/>
<path d="M153.7,220.4H155.3M154.4,213.2H155.3M153.7,206.1H155.3M154.4,198.9H155.3M153.7,191.7H155.3M154.4,184.5H155.3M153.7,177.4H155.3M154.4,170.2H155.3M153.7,163H155.3M154.4,155.8H155.3M153.7,148.7H155.3M163.7,220.4V222M170.8,220.4V222M188.8,220.4V222M205.9,220.4V222M222.4,220.4V222" stroke="#666" stroke-width="0.7" fill="none"/>
<g font-size="3.1" font-weight="bold" fill="#666"><text x="151.9" y="221.5" text-anchor="end">0</text><text x="151.9" y="207.2" text-anchor="end">20</text><text x="151.9" y="192.8" text-anchor="end">40</text><text x="151.9" y="178.5" text-anchor="end">60</text><text x="151.9" y="164.1" text-anchor="end">80</text><text x="151.9" y="149.8" text-anchor="end">100</text><text x="163.6" y="227.7" text-anchor="middle">0</text><text x="170.7" y="227.7" text-anchor="middle">10<tspan dy="-1.1" font-size="2.2">2</tspan></text><text x="188.7" y="227.7" text-anchor="middle">10<tspan dy="-1.1" font-size="2.2">3</tspan></text><text x="205.8" y="227.7" text-anchor="middle">10<tspan dy="-1.1" font-size="2.2">4</tspan></text><text x="222.3" y="227.7" text-anchor="middle">10<tspan dy="-1.1" font-size="2.2">5</tspan></text></g>
<rect x="155.3" y="233.6" width="74.6" height="75.5" fill="none" stroke="#9a9a9a" stroke-width="1"/>
<path d="M165.5,309.1 L168,307.5 L170.4,305 L172.9,300.9 L174.8,294.4 L176.5,284.6 L178.1,273.1 L179.8,260.1 L181.1,250.2 L182.2,242.1 L183.2,239.6 L184.3,241.3 L185.3,245.3 L186.3,253.5 L187.6,265 L188.7,278 L189.7,289.5 L190.9,299.3 L192.2,305.8 L193.8,309.1 L193.8,309.1 L165.5,309.1Z" fill="#c6c6c6"/>
<path d="M155.8,309.1 L157.1,309.1 L158.5,309.1 L159.8,309.1 L161.4,308.9 L163.1,308.8 L165.5,308.3 L168,307.5 L169.9,305.8 L171,304.5 L172.1,303.4 L172.8,301.5 L173.5,300.8 L174.2,299.3 L174.6,297.6 L175,296.1 L175.3,294.4 L175.6,292.7 L175.8,291.7 L176,290.2 L176.2,289.5 L176.4,287.5 L176.6,286.2 L176.8,284.6 L177,283.1 L177.2,282.1 L177.4,280.6 L177.6,278.9 L177.7,277.9 L177.9,277 L178.1,274.8 L178.3,273.2 L178.5,271.8 L178.7,270.3 L178.9,269.4 L179,268.1 L179.2,266.6 L179.4,265 L179.6,263.3 L179.8,262.2 L179.9,261.1 L180.1,259.6 L180.2,257.8 L180.4,256.7 L180.6,255.1 L180.7,253.5 L180.9,252 L181,250.7 L181.2,249.4 L181.3,247.9 L181.4,246.4 L181.6,244.8 L181.7,243.6 L181.9,242.1 L182.1,241 L182.4,238.8 L182.6,240.3 L182.8,241.6 L183,243.7 L184,245.3 L184.1,243.9 L184.3,242.7 L184.4,241.5 L184.5,240 L184.7,238.8 L185.3,238 L185.4,239.5 L185.5,240.9 L185.6,242.6 L185.7,243.6 L185.9,245.1 L186,247 L186.1,248.4 L186.2,249.6 L186.3,251.8 L186.5,252.5 L186.6,253.9 L186.7,255.8 L186.8,256.7 L186.9,258.4 L187.1,259.9 L187.3,260.9 L187.4,262.3 L187.6,264.2 L187.8,265.5 L187.9,266.6 L188.1,267.6 L188.3,269.4 L188.5,270.5 L188.7,272.2 L188.9,273.1 L189,274.3 L189.2,275.7 L189.3,276.8 L189.5,278.5 L189.6,280.4 L189.7,281.3 L189.9,282.9 L190,284.3 L190.1,286.2 L190.3,287.5 L190.4,288.7 L190.5,290.1 L190.6,291.7 L190.7,292.5 L190.9,294.4 L191,295.6 L191.2,297.4 L191.4,298.6 L191.5,300.6 L191.7,301.4 L191.8,302.6 L192.2,304.2 L192.6,305.6 L193,307.1 L195,308.8 L196.3,308.9 L197.7,309 L199,309.1 L200.4,309.1 L201.7,309.1 L203,309.1 L204.3,309.1 L205.6,309.1 L207,309.1 L208.3,309.1 L209.6,309.1 L210.9,309.1 L212.2,309.1 L213.6,309.1 L214.9,309.1 L216.2,309.1 L217.5,309.1 L218.8,309.1 L220.2,309.1 L221.5,309.1 L222.8,309.1 L224.1,309.1 L225.4,309.1 L226.8,309.1 L228.1,309.1 L229.4,309.1" fill="none" stroke="#161616" stroke-width="1.25" stroke-linejoin="round"/>
<path d="M153.7,309.1H155.3M154.4,301.9H155.3M153.7,294.8H155.3M154.4,287.6H155.3M153.7,280.4H155.3M154.4,273.2H155.3M153.7,266.1H155.3M154.4,258.9H155.3M153.7,251.7H155.3M154.4,244.5H155.3M153.7,237.4H155.3M163.7,309.1V310.7M170.8,309.1V310.7M188.8,309.1V310.7M205.9,309.1V310.7M222.4,309.1V310.7" stroke="#666" stroke-width="0.7" fill="none"/>
<g font-size="3.1" font-weight="bold" fill="#666"><text x="151.9" y="310.2" text-anchor="end">0</text><text x="151.9" y="295.9" text-anchor="end">20</text><text x="151.9" y="281.5" text-anchor="end">40</text><text x="151.9" y="267.2" text-anchor="end">60</text><text x="151.9" y="252.8" text-anchor="end">80</text><text x="151.9" y="238.5" text-anchor="end">100</text><text x="163.6" y="316.4" text-anchor="middle">0</text><text x="170.7" y="316.4" text-anchor="middle">10<tspan dy="-1.1" font-size="2.2">2</tspan></text><text x="188.7" y="316.4" text-anchor="middle">10<tspan dy="-1.1" font-size="2.2">3</tspan></text><text x="205.8" y="316.4" text-anchor="middle">10<tspan dy="-1.1" font-size="2.2">4</tspan></text><text x="222.3" y="316.4" text-anchor="middle">10<tspan dy="-1.1" font-size="2.2">5</tspan></text></g>
<rect x="155.3" y="318.8" width="74.6" height="74.7" fill="none" stroke="#9a9a9a" stroke-width="1"/>
<path d="M164.7,393.1 L167.2,391.5 L169.6,389.4 L172.1,385.3 L174.2,378.8 L176.2,368.9 L177.8,357.5 L179.4,346.1 L181.1,334.6 L182.4,327.3 L183.5,324 L184.7,325.6 L186,333 L187.3,344.4 L188.4,357.5 L189.6,370.6 L190.5,380.4 L191.7,386.9 L192.8,391 L194.1,393.1 L194.1,393.5 L164.7,393.5Z" fill="#c6c6c6"/>
<path d="M155.8,393.1 L157.1,393.1 L158.5,393.1 L159.8,393.1 L161.4,393 L163.1,392.8 L165.5,392.2 L166.8,391.6 L168,391 L169.2,390.2 L170.4,389.4 L171.7,388.1 L172.9,386.9 L173.7,385.7 L174.5,384.2 L175.3,382.8 L175.8,381.4 L176.2,379.6 L176.6,378.8 L177,376.9 L177.5,375.5 L177.7,373.7 L177.9,373.2 L178.2,371.7 L178.4,370 L178.6,368.6 L178.9,367 L179.1,365.7 L179.3,364.2 L179.4,362.8 L179.6,362 L179.8,360.4 L179.9,359.7 L180.1,357.8 L180.2,356.8 L180.4,355 L180.6,353.4 L180.7,352.6 L180.9,351.2 L181.1,350.2 L181.3,348.8 L181.5,347 L181.7,345.6 L181.9,344.4 L182,342.8 L182.3,341.2 L182.5,340.4 L182.7,338.4 L182.9,337.1 L183.1,336 L183.3,334.6 L183.6,333.3 L183.9,331.8 L184.1,330.7 L184.4,328.9 L184.7,327.3 L185.1,325.8 L185.6,324 L186.6,324.8 L186.9,326.4 L187.3,328.1 L187.6,329.7 L187.8,330.9 L188,332.1 L188.2,333.7 L188.4,335 L188.6,336.2 L188.7,337.6 L188.9,338.8 L189.1,340.1 L189.2,341.1 L189.4,343.1 L189.6,344.4 L189.7,345.6 L189.8,347.6 L190,348.3 L190.1,349.9 L190.3,352.1 L190.4,352.6 L190.5,354.2 L190.7,355.3 L190.8,357.4 L190.9,358.5 L191,359.9 L191.2,360.9 L191.3,362.7 L191.4,364.7 L191.5,365.7 L191.6,367 L191.8,368.3 L191.9,370.1 L192,371.3 L192.1,372.7 L192.2,373.9 L192.3,375.5 L192.5,376.7 L192.7,378.4 L192.8,379.4 L193,380.6 L193.2,382 L193.3,383.7 L193.6,384.9 L193.9,386.4 L194.2,387.8 L194.5,389.4 L195.3,390.8 L196.1,392.2 L198.2,393.1 L199.6,393.1 L200.9,393.1 L202.3,393.1 L203.6,393.1 L205,393.1 L206.4,393.1 L207.7,393.1 L209.1,393.1 L210.4,393.1 L211.8,393.1 L213.1,393.1 L214.5,393.1 L215.8,393.1 L217.2,393.1 L218.6,393.1 L219.9,393.1 L221.3,393.1 L222.6,393.1 L224,393.1 L225.3,393.1 L226.7,393.1 L228,393.1 L229.4,393.1" fill="none" stroke="#161616" stroke-width="1.25" stroke-linejoin="round"/>
<path d="M153.7,393.5H155.3M154.4,386.4H155.3M153.7,379.3H155.3M154.4,372.2H155.3M153.7,365.1H155.3M154.4,358H155.3M153.7,350.9H155.3M154.4,343.8H155.3M153.7,336.7H155.3M154.4,329.6H155.3M153.7,322.5H155.3M163.7,393.5V395.1M170.8,393.5V395.1M188.8,393.5V395.1M205.9,393.5V395.1M222.4,393.5V395.1" stroke="#666" stroke-width="0.7" fill="none"/>
<g font-size="3.1" font-weight="bold" fill="#666"><text x="151.9" y="394.6" text-anchor="end">0</text><text x="151.9" y="380.4" text-anchor="end">20</text><text x="151.9" y="366.2" text-anchor="end">40</text><text x="151.9" y="352" text-anchor="end">60</text><text x="151.9" y="337.8" text-anchor="end">80</text><text x="151.9" y="323.6" text-anchor="end">100</text><text x="163.6" y="400.8" text-anchor="middle">0</text><text x="170.7" y="400.8" text-anchor="middle">10<tspan dy="-1.1" font-size="2.2">2</tspan></text><text x="188.7" y="400.8" text-anchor="middle">10<tspan dy="-1.1" font-size="2.2">3</tspan></text><text x="205.8" y="400.8" text-anchor="middle">10<tspan dy="-1.1" font-size="2.2">4</tspan></text><text x="222.3" y="400.8" text-anchor="middle">10<tspan dy="-1.1" font-size="2.2">5</tspan></text></g>
<rect x="155.3" y="405" width="74.6" height="75.4" fill="none" stroke="#9a9a9a" stroke-width="1"/>
<path d="M166.3,480.4 L168.8,478.5 L171.2,475.2 L173.7,468.7 L175.7,458.8 L177.3,447.4 L178.9,432.7 L180.6,419.6 L181.9,413.1 L183,409.8 L184,411.4 L185,418 L186.3,429.4 L187.6,444.1 L188.7,457.2 L189.9,468.7 L191.2,475.2 L192.5,479.3 L193.8,480.4 L193.8,480.4 L166.3,480.4Z" fill="#c6c6c6"/>
<path d="M155.8,480.4 L157.1,480.3 L158.5,480.2 L159.8,480.1 L161.2,480 L162.5,479.9 L163.9,479.8 L166.3,479.4 L168.8,478.8 L170,477.9 L171.2,476.8 L172.5,475.8 L173.7,474.4 L174.4,473.3 L175.1,472 L175.8,470.3 L176.3,468.8 L176.8,468 L177.3,466.3 L177.8,465.4 L178.1,464.1 L178.4,462.7 L178.8,461.6 L179.1,460.1 L179.4,458.8 L179.8,456.9 L180.1,456.5 L180.4,454.3 L180.7,453.5 L181.1,452.3 L181.3,451 L181.6,449.9 L181.8,448.2 L182.1,447 L182.4,445.8 L182.6,444.2 L182.7,443.2 L182.9,441.8 L183.1,440.4 L183.3,439.3 L183.5,437.6 L183.8,435.9 L184.1,434.3 L184.3,432.7 L184.7,434.1 L185,436 L185.3,434.2 L185.6,432.7 L186.1,431.6 L186.6,429.4 L187.6,428.6 L188.4,431.1 L188.5,430.1 L188.6,428.1 L188.7,426.8 L188.7,426.2 L188.8,424.4 L188.9,423.5 L189,422.1 L189.1,421 L189.1,419.4 L189.2,418 L190,419.6 L190.9,418.8 L191.1,417 L191.3,415.5 L191.5,414.8 L191.7,413.1 L192,410.7 L192.3,409.8 L192.7,411.2 L193,413.1 L193.1,414.3 L193.3,415.7 L193.4,416.6 L193.5,418.2 L193.6,419.6 L193.7,421.1 L193.8,422 L193.9,422.9 L194,425.3 L194.1,425.9 L194.1,427.3 L194.2,428.5 L194.3,430.6 L194.4,431.7 L194.5,432.7 L194.6,434.4 L194.7,435 L194.8,437.1 L195,438.6 L195.1,439.9 L195.2,440.9 L195.3,442.3 L195.4,444.1 L195.6,445.5 L195.7,447 L195.9,448.3 L196,450.3 L196.1,451.5 L196.3,452.8 L196.4,453.9 L196.6,455.2 L196.7,456.8 L196.8,458.4 L197,459.5 L197.1,460.6 L197.3,462.2 L197.4,463.8 L197.6,464.8 L197.7,466.6 L197.9,467.7 L198.1,469.1 L198.2,470.8 L198.4,471.9 L198.8,473.8 L199.1,475.3 L199.5,476.8 L200.3,478.1 L201,479.3 L203.1,480.1 L204.4,480.1 L205.8,480.1 L207.1,480.1 L208.4,480.2 L209.7,480.2 L211,480.2 L212.3,480.2 L213.6,480.2 L214.9,480.2 L216.3,480.2 L217.6,480.3 L218.9,480.3 L220.2,480.3 L221.5,480.3 L222.8,480.3 L224.1,480.3 L225.5,480.4 L226.8,480.4 L228.1,480.4 L229.4,480.4" fill="none" stroke="#161616" stroke-width="1.25" stroke-linejoin="round"/>
<path d="M153.7,480.4H155.3M154.4,473.2H155.3M153.7,466.1H155.3M154.4,458.9H155.3M153.7,451.7H155.3M154.4,444.6H155.3M153.7,437.4H155.3M154.4,430.3H155.3M153.7,423.1H155.3M154.4,415.9H155.3M153.7,408.8H155.3M163.7,480.4V482M170.8,480.4V482M188.8,480.4V482M205.9,480.4V482M222.4,480.4V482" stroke="#666" stroke-width="0.7" fill="none"/>
<g font-size="3.1" font-weight="bold" fill="#666"><text x="151.9" y="481.5" text-anchor="end">0</text><text x="151.9" y="467.2" text-anchor="end">20</text><text x="151.9" y="452.8" text-anchor="end">40</text><text x="151.9" y="438.5" text-anchor="end">60</text><text x="151.9" y="424.2" text-anchor="end">80</text><text x="151.9" y="409.9" text-anchor="end">100</text><text x="163.6" y="487.7" text-anchor="middle">0</text><text x="170.7" y="487.7" text-anchor="middle">10<tspan dy="-1.1" font-size="2.2">2</tspan></text><text x="188.7" y="487.7" text-anchor="middle">10<tspan dy="-1.1" font-size="2.2">3</tspan></text><text x="205.8" y="487.7" text-anchor="middle">10<tspan dy="-1.1" font-size="2.2">4</tspan></text><text x="222.3" y="487.7" text-anchor="middle">10<tspan dy="-1.1" font-size="2.2">5</tspan></text></g>
<rect x="303.7" y="58.3" width="74.7" height="74" fill="none" stroke="#9a9a9a" stroke-width="1"/>
<path d="M304.2,132.1 L304.5,130.8 L306.2,127.6 L308.1,119.4 L309.8,107.9 L311.4,94.9 L313,81.8 L314.3,72 L315.7,66.3 L316.8,63.8 L317.9,66.3 L319.2,73.6 L320.6,83.4 L321.9,94.9 L323.2,106.3 L324.5,116.1 L326.1,124.3 L328.2,129.2 L330.7,131.6 L332.3,132.1 L332.3,132.3 L304.2,132.3Z" fill="#d4d4d4"/>
<path d="M304.2,131.2 L304.9,130 L305.4,128.5 L306,127 L306.5,125.9 L306.8,124.4 L307.2,122.7 L307.5,122 L307.8,119.8 L308.1,118.6 L308.3,117.2 L308.5,114.7 L308.7,113.5 L309,112.3 L309.2,111.4 L309.4,109.8 L309.6,108.7 L309.8,107.1 L309.9,106.5 L310.1,104.7 L310.3,103.3 L310.4,101.3 L310.6,100.4 L310.8,98.9 L310.9,98.2 L311.1,97.3 L311.2,95 L311.4,94 L311.6,93.1 L311.7,91.8 L311.9,89.5 L312.1,88.8 L312.2,87.4 L312.4,86 L312.5,85.4 L312.7,84.2 L312.9,82.1 L313,81 L313.3,79.7 L313.5,77.7 L313.7,75.9 L313.9,74.7 L314.1,72.7 L314.3,72 L314.7,71 L315,69.2 L315.3,67.9 L315.8,67.6 L316.3,65.4 L317.3,63.8 L317.8,65 L318.3,66.3 L318.5,67.2 L318.8,69.6 L319,70.8 L319.2,72 L319.4,73.6 L319.6,75 L319.8,76.3 L320,77.8 L320.2,78.3 L320.4,80.9 L320.6,81.8 L320.7,83.5 L320.9,84.7 L321.1,85.7 L321.3,87.1 L321.5,89.7 L321.7,89.9 L321.9,91.6 L322.1,92.9 L322.2,94.3 L322.4,95.1 L322.6,97.8 L322.8,98.3 L323,100.3 L323.2,101.4 L323.4,102.7 L323.5,104.2 L323.7,105 L323.9,107 L324.1,108.8 L324.3,109.7 L324.5,111.2 L324.7,112.6 L324.9,113.7 L325.1,115.8 L325.4,117.2 L325.6,118.4 L325.8,119.4 L326.1,120.8 L326.4,122.5 L326.8,123.3 L327.1,125.4 L327.4,125.9 L328.1,127.1 L328.7,128.2 L329.4,129.5 L330.4,130.3 L331.5,131.2 L334,132 L335.6,132.1 L337.2,132.1 L338.5,132.1 L339.9,132.1 L341.2,132.1 L342.5,132.1 L343.8,132.1 L345.1,132.1 L346.4,132.1 L347.7,132.1 L349,132.1 L350.3,132.1 L351.7,132.1 L353,132.1 L354.3,132.1 L355.6,132.1 L356.9,132.1 L358.2,132.1 L359.5,132.1 L360.8,132.1 L362.2,132.1 L363.5,132.1 L364.8,132.1 L366.1,132.1 L367.4,132.1 L368.7,132.1 L370,132.1 L371.3,132.1 L372.7,132.1 L374,132.1 L375.3,132.1 L376.6,132.1 L377.9,132.1" fill="none" stroke="#7a7a7a" stroke-width="1.2" stroke-linejoin="round"/>
<path d="M304.2,131.6 L304.9,130.5 L305.4,129.3 L306,128 L306.5,126.7 L306.8,125.4 L307.2,124.2 L307.5,122.4 L307.8,121.1 L308.1,119.4 L308.3,117.5 L308.5,116.7 L308.7,114.7 L309,114.5 L309.2,111.8 L309.4,110.9 L309.6,109.9 L309.8,107.9 L309.9,106.5 L310.1,105.5 L310.3,103.5 L310.4,102.3 L310.6,102 L310.8,100.3 L310.9,98.6 L311.1,98 L311.2,96.2 L311.4,94.9 L311.6,93.3 L311.7,92.3 L311.9,90.7 L312.1,89.1 L312.2,87.9 L312.4,87.5 L312.5,86.4 L312.7,84.2 L312.9,82.9 L313,81.8 L313.2,80.2 L313.4,79.3 L313.6,77.6 L313.8,76.3 L314,74.4 L314.2,72.6 L314.3,72 L314.7,69.8 L315,68.9 L315.3,67.1 L316.3,68.7 L316.5,67.5 L316.6,66 L316.8,64.4 L317,63 L317.1,62.2 L317.4,63.2 L317.7,65.4 L317.9,67.1 L318.3,69.5 L318.6,70.5 L318.9,72 L319.1,72.7 L319.4,74.6 L319.6,75.5 L319.8,77.8 L320,78.7 L320.2,80.2 L320.4,81.2 L320.6,83.6 L320.8,84.9 L321,85.9 L321.2,87.4 L321.4,88.7 L321.5,90 L321.7,91.5 L321.9,93 L322.1,95 L322.3,95.3 L322.5,97 L322.7,98.2 L322.8,99.8 L323,101.4 L323.2,102.9 L323.4,103.4 L323.6,105.4 L323.8,106.1 L324,108.9 L324.2,109.6 L324.4,110.5 L324.6,113.1 L324.8,113.6 L325,114.7 L325.2,115.7 L325.5,117.8 L325.8,119 L326.1,120.1 L326.4,122 L326.8,123 L327.1,124.3 L327.8,125.2 L328.4,127 L329.1,128.4 L330.3,129.6 L331.5,130.8 L332.9,131.4 L334.3,132 L335.8,132.1 L337.2,132.1 L338.5,132.1 L339.9,132.1 L341.2,132.1 L342.5,132.1 L343.8,132.1 L345.1,132.1 L346.4,132.1 L347.7,132.1 L349,132.1 L350.3,132.1 L351.7,132.1 L353,132.1 L354.3,132.1 L355.6,132.1 L356.9,132.1 L358.2,132.1 L359.5,132.1 L360.8,132.1 L362.2,132.1 L363.5,132.1 L364.8,132.1 L366.1,132.1 L367.4,132.1 L368.7,132.1 L370,132.1 L371.3,132.1 L372.7,132.1 L374,132.1 L375.3,132.1 L376.6,132.1 L377.9,132.1" fill="none" stroke="#161616" stroke-width="1.25" stroke-linejoin="round"/>
<path d="M302.1,132.3H303.7M302.8,125.3H303.7M302.1,118.2H303.7M302.8,111.2H303.7M302.1,104.2H303.7M302.8,97.2H303.7M302.1,90.1H303.7M302.8,83.1H303.7M302.1,76.1H303.7M302.8,69H303.7M302.1,62H303.7M312.1,132.3V133.9M319.2,132.3V133.9M337.2,132.3V133.9M354.3,132.3V133.9M370.8,132.3V133.9" stroke="#666" stroke-width="0.7" fill="none"/>
<g font-size="3.1" font-weight="bold" fill="#666"><text x="300.3" y="133.4" text-anchor="end">0</text><text x="300.3" y="119.3" text-anchor="end">20</text><text x="300.3" y="105.3" text-anchor="end">40</text><text x="300.3" y="91.2" text-anchor="end">60</text><text x="300.3" y="77.2" text-anchor="end">80</text><text x="300.3" y="63.1" text-anchor="end">100</text><text x="312" y="139.6" text-anchor="middle">0</text><text x="319.1" y="139.6" text-anchor="middle">10<tspan dy="-1.1" font-size="2.2">2</tspan></text><text x="337.1" y="139.6" text-anchor="middle">10<tspan dy="-1.1" font-size="2.2">3</tspan></text><text x="354.2" y="139.6" text-anchor="middle">10<tspan dy="-1.1" font-size="2.2">4</tspan></text><text x="370.7" y="139.6" text-anchor="middle">10<tspan dy="-1.1" font-size="2.2">5</tspan></text></g>
<rect x="303.7" y="143.6" width="74.7" height="74.4" fill="none" stroke="#9a9a9a" stroke-width="1"/>
<path d="M304.2,217.1 L305.4,215.8 L307.8,210.9 L310.3,196.2 L311.9,179.9 L313.5,160.2 L315.2,148.8 L316,147.2 L317.3,152.1 L318.9,171.7 L320.6,192.9 L322.5,204.4 L325,210.9 L327.4,215 L329.9,217.1 L329.9,218 L304.2,218Z" fill="#d6d6d6"/>
<path d="M307.8,217.1 L309.4,217 L311.1,216.8 L312.7,216.6 L314.3,215.8 L316,215 L317,213.6 L318,213.2 L319,212.3 L320.1,210.9 L320.7,210.5 L321.4,207.7 L322,207.2 L322.7,205.9 L323.3,204.4 L323.9,203.1 L324.4,201.5 L325,200.6 L325.5,198.2 L326.1,198.3 L326.6,196.2 L327.2,194.7 L327.8,193.3 L328.4,192.5 L329.1,191.3 L329.5,189.4 L329.9,188.3 L330.3,187.6 L330.7,186.7 L331.1,183.8 L331.5,183.1 L331.9,181.4 L332.3,181.1 L332.7,178.5 L333.1,177.6 L333.6,175.5 L334,175 L334.5,173.4 L334.9,171.9 L335.4,171.1 L335.9,169.4 L336.4,168.4 L337.2,168.3 L338,166.6 L338.9,165.2 L340.8,163.5 L341.3,162.2 L341.7,160.8 L342.1,159.3 L342.5,157.7 L343,157 L343.4,156.3 L343.8,153.7 L344.2,153.9 L344.6,152.1 L345,149 L345.4,148.8 L346.2,150.6 L347,150.9 L347.9,152.1 L348.1,153.7 L348.3,154.8 L348.5,156.2 L348.7,158.2 L348.9,159.6 L349.1,160.1 L349.3,162.4 L349.5,163.5 L349.7,164.5 L349.8,165.7 L350,167.9 L350.1,168.7 L350.3,170.4 L350.5,170.4 L350.6,172.2 L350.8,174.5 L351,174.8 L351.1,176.6 L351.3,178 L351.4,179.8 L351.5,180.4 L351.7,183.1 L351.8,184.2 L351.9,184.8 L352.1,186.1 L352.2,188.2 L352.4,188.1 L352.5,189.9 L352.6,190.7 L352.8,192.9 L352.9,193.7 L353,195.4 L353.2,197.2 L353.3,199.2 L353.4,199.7 L353.6,200.7 L353.7,202.9 L353.8,204.5 L354,204.8 L354.1,206.4 L354.3,208.3 L354.4,209.3 L354.7,210.1 L355,212.4 L355.4,213.9 L355.7,214.7 L356,216.2 L357.3,216.6 L358.5,217.1 L359.9,217.1 L361.3,217.1 L362.6,217.1 L364,217.1 L365.4,217.1 L366.8,217.1 L368.2,217.1 L369.6,217.1 L371,217.1 L372.4,217.1 L373.7,217.1 L375.1,217.1 L376.5,217.1 L377.9,217.1" fill="none" stroke="#7a7a7a" stroke-width="1.2" stroke-linejoin="round"/>
<path d="M304.2,217.1 L306,217.1 L307.8,217.1 L309.2,217 L310.5,216.8 L311.9,216.6 L313.1,215.6 L314.3,214.5 L315.6,213.6 L316.8,212.6 L317.6,211.1 L318.4,209.5 L319.2,208.5 L319.8,208.1 L320.3,205.9 L320.9,204.1 L321.4,204.1 L322,202.9 L322.5,201.1 L323.1,199.7 L323.7,198.6 L324.4,197.5 L325,196.2 L325.8,194 L326.6,192.9 L327.2,192 L327.7,189.9 L328.2,188 L328.6,186.2 L328.9,185.3 L329.2,184 L329.5,183.1 L329.9,181.5 L330.2,180.5 L330.5,177.9 L330.9,177.4 L331.2,176.8 L331.5,175 L332.1,172.6 L332.6,171.6 L333.1,170.1 L333.7,168.6 L334.2,166.5 L334.8,165.2 L335.4,163.7 L336,162.4 L336.6,160.8 L337.2,159.4 L338,157.8 L338.9,157.3 L339.7,156.2 L341.3,155.3 L343,153.7 L343.8,151.4 L344.6,150.4 L345.2,149.8 L345.7,148 L346.4,149.2 L347,150.4 L347.3,151.9 L347.5,153 L347.7,154.4 L348,155.9 L348.2,157.3 L348.4,159 L348.7,160.2 L348.8,161.8 L349,163.5 L349.2,164.1 L349.3,165.5 L349.5,166.5 L349.7,168.4 L349.8,168.8 L350,171.1 L350.1,171.5 L350.3,173.3 L350.4,174.5 L350.6,175.7 L350.7,177.3 L350.8,179.3 L350.9,180.2 L351.1,182 L351.2,183.5 L351.3,184.4 L351.4,185.4 L351.6,186.7 L351.7,188.9 L351.8,189.9 L351.9,191.3 L352.1,192.9 L352.2,193.2 L352.4,195.1 L352.5,196.3 L352.6,198.3 L352.8,199.6 L352.9,200.2 L353,202.6 L353.2,203.3 L353.3,205.6 L353.4,205.3 L353.6,207.7 L353.8,209.5 L354.1,210.3 L354.4,211.9 L354.7,213.1 L354.9,214.4 L355.2,215.8 L356.4,216.5 L357.7,217.1 L359,217.1 L360.4,217.1 L361.7,217.1 L363.1,217.1 L364.4,217.1 L365.8,217.1 L367.1,217.1 L368.5,217.1 L369.8,217.1 L371.2,217.1 L372.5,217.1 L373.9,217.1 L375.2,217.1 L376.6,217.1 L377.9,217.1" fill="none" stroke="#161616" stroke-width="1.25" stroke-linejoin="round"/>
<path d="M302.1,218H303.7M302.8,210.9H303.7M302.1,203.9H303.7M302.8,196.8H303.7M302.1,189.7H303.7M302.8,182.7H303.7M302.1,175.6H303.7M302.8,168.5H303.7M302.1,161.5H303.7M302.8,154.4H303.7M302.1,147.3H303.7M312.1,218V219.6M319.2,218V219.6M337.2,218V219.6M354.3,218V219.6M370.8,218V219.6" stroke="#666" stroke-width="0.7" fill="none"/>
<g font-size="3.1" font-weight="bold" fill="#666"><text x="300.3" y="219.1" text-anchor="end">0</text><text x="300.3" y="205" text-anchor="end">20</text><text x="300.3" y="190.8" text-anchor="end">40</text><text x="300.3" y="176.7" text-anchor="end">60</text><text x="300.3" y="162.6" text-anchor="end">80</text><text x="300.3" y="148.4" text-anchor="end">100</text><text x="312" y="225.3" text-anchor="middle">0</text><text x="319.1" y="225.3" text-anchor="middle">10<tspan dy="-1.1" font-size="2.2">2</tspan></text><text x="337.1" y="225.3" text-anchor="middle">10<tspan dy="-1.1" font-size="2.2">3</tspan></text><text x="354.2" y="225.3" text-anchor="middle">10<tspan dy="-1.1" font-size="2.2">4</tspan></text><text x="370.7" y="225.3" text-anchor="middle">10<tspan dy="-1.1" font-size="2.2">5</tspan></text></g>
<rect x="303.7" y="231" width="74.7" height="74.3" fill="none" stroke="#9a9a9a" stroke-width="1"/>
<path d="M304.5,305 L306.2,302.8 L308.6,294.7 L311.1,275 L313,250.5 L314.3,239.1 L315.7,234.2 L316.8,239.1 L318.4,253.8 L320.1,271.8 L321.7,288.1 L324.2,296.3 L326.6,301.2 L329.1,305 L329.1,305.3 L304.5,305.3Z" fill="#d6d6d6"/>
<path d="M311.1,305 L312.7,304.2 L314.3,303.5 L315.6,302.7 L316.8,302 L318,301.2 L319.2,300.4 L320.1,299.4 L320.9,298.5 L321.7,297.1 L322.2,296.4 L322.7,294.5 L323.2,293.5 L323.7,292 L324.2,290.6 L324.5,288.5 L324.9,287.2 L325.3,285.8 L325.7,284.8 L326.1,283.2 L326.4,281.5 L326.7,280.1 L326.9,279.6 L327.2,277.1 L327.5,275.9 L327.8,275 L328.1,273.5 L328.4,272.5 L328.7,271.2 L329.1,270 L329.4,267.7 L329.7,266.3 L329.9,264.9 L330.2,264.5 L330.5,262.7 L330.7,260.7 L331,259.5 L331.3,257.8 L331.5,257 L331.7,256 L332,253.9 L332.2,252.8 L332.4,251.7 L332.7,250.5 L332.9,248.7 L333.2,247.9 L333.4,246.1 L333.7,245.1 L334,243.2 L334.2,242 L334.5,241 L334.7,239.5 L335,238.2 L335.3,236.6 L336.2,235.8 L336.7,236.7 L337.2,239.1 L337.9,240.1 L338.5,241.5 L339.4,243.7 L340.2,244.8 L340.6,245.6 L341,247.9 L341.4,249.2 L341.8,250.5 L342,252 L342.1,253.8 L342.2,255.2 L342.4,255.7 L342.5,257.4 L342.7,259.7 L342.8,260 L343,262 L343.1,263.1 L343.2,265 L343.3,265.8 L343.4,267.9 L343.5,268.9 L343.7,269.6 L343.8,270.4 L343.9,273 L344,273.5 L344.1,275.6 L344.3,276.7 L344.4,277.8 L344.5,278.7 L344.6,280.4 L344.7,282.3 L344.8,283.8 L344.9,284.7 L345,286 L345.1,287.2 L345.2,289.7 L345.3,290 L345.4,291.4 L345.6,293.3 L345.7,294.8 L345.9,296.1 L346.1,296.7 L346.2,298 L346.4,299.7 L346.5,301.2 L347.1,302.5 L347.7,303.7 L348.3,305 L349.7,305 L351,305 L352.4,305 L353.7,305 L355.1,305 L356.4,305 L357.7,305 L359.1,305 L360.4,305 L361.8,305 L363.1,305 L364.5,305 L365.8,305 L367.2,305 L368.5,305 L369.8,305 L371.2,305 L372.5,305 L373.9,305 L375.2,305 L376.6,305 L377.9,305" fill="none" stroke="#7a7a7a" stroke-width="1.2" stroke-linejoin="round"/>
<path d="M304.2,305 L305.6,305 L307,305 L308.3,305 L309.7,305 L311.1,305 L312.3,304.3 L313.5,303.6 L314.8,302.6 L316,301.5 L317.2,300.8 L318.4,300.4 L319.7,299.6 L320.9,297.9 L321.4,295.9 L321.9,295.1 L322.4,293.8 L322.8,293 L323.3,291.4 L323.8,290 L324.3,288.9 L324.8,287.7 L325.3,285.9 L325.8,284.8 L326.1,283.9 L326.4,282.6 L326.8,281.2 L327.1,279.4 L327.4,278.3 L327.8,277.4 L328.1,274.6 L328.4,274.1 L328.7,273.2 L329.1,271.8 L329.3,271.1 L329.6,269 L329.9,267.1 L330.1,265.9 L330.4,265.1 L330.7,263.6 L330.9,261.6 L331.2,261 L331.4,259.4 L331.6,257.3 L331.9,256.5 L332.1,255.1 L332.3,253.8 L332.5,251.9 L332.8,250.6 L333,249 L333.2,248.6 L333.4,247.4 L333.6,245.6 L333.8,244.1 L334,242.3 L334.2,241.5 L334.4,240 L334.6,238.8 L334.8,237.4 L335.6,235 L335.9,236.7 L336.2,237.9 L336.6,239 L336.9,240.7 L338,242.3 L338.9,244.4 L339.7,245.6 L340,246.7 L340.3,248.2 L340.7,249 L341,250.7 L341.3,252.2 L341.5,253.4 L341.6,255.6 L341.8,256.1 L342,257.8 L342.1,259.8 L342.3,261 L342.5,262 L342.6,264 L342.7,265.5 L342.9,266.8 L343,267.4 L343.1,268.1 L343.2,268.7 L343.4,272.2 L343.5,272.1 L343.6,273.2 L343.8,275 L343.9,275.7 L344,278.2 L344.1,278.9 L344.2,280.7 L344.3,282.5 L344.4,283.1 L344.5,285.1 L344.6,285.5 L344.8,288.3 L344.9,289 L345,289.9 L345.1,291.4 L345.2,292.4 L345.4,295.1 L345.6,295.6 L345.7,296.7 L345.9,298.2 L346.1,299.4 L346.2,301.2 L346.8,302.6 L347.3,303.6 L347.9,305 L349.2,305 L350.5,305 L351.8,305 L353.1,305 L354.4,305 L355.7,305 L357,305 L358.3,305 L359.6,305 L360.9,305 L362.2,305 L363.5,305 L364.8,305 L366.1,305 L367.4,305 L368.8,305 L370.1,305 L371.4,305 L372.7,305 L374,305 L375.3,305 L376.6,305 L377.9,305" fill="none" stroke="#161616" stroke-width="1.25" stroke-linejoin="round"/>
<path d="M302.1,305.3H303.7M302.8,298.2H303.7M302.1,291.2H303.7M302.8,284.1H303.7M302.1,277.1H303.7M302.8,270H303.7M302.1,262.9H303.7M302.8,255.9H303.7M302.1,248.8H303.7M302.8,241.8H303.7M302.1,234.7H303.7M312.1,305.3V306.9M319.2,305.3V306.9M337.2,305.3V306.9M354.3,305.3V306.9M370.8,305.3V306.9" stroke="#666" stroke-width="0.7" fill="none"/>
<g font-size="3.1" font-weight="bold" fill="#666"><text x="300.3" y="306.4" text-anchor="end">0</text><text x="300.3" y="292.3" text-anchor="end">20</text><text x="300.3" y="278.2" text-anchor="end">40</text><text x="300.3" y="264" text-anchor="end">60</text><text x="300.3" y="249.9" text-anchor="end">80</text><text x="300.3" y="235.8" text-anchor="end">100</text><text x="312" y="312.6" text-anchor="middle">0</text><text x="319.1" y="312.6" text-anchor="middle">10<tspan dy="-1.1" font-size="2.2">2</tspan></text><text x="337.1" y="312.6" text-anchor="middle">10<tspan dy="-1.1" font-size="2.2">3</tspan></text><text x="354.2" y="312.6" text-anchor="middle">10<tspan dy="-1.1" font-size="2.2">4</tspan></text><text x="370.7" y="312.6" text-anchor="middle">10<tspan dy="-1.1" font-size="2.2">5</tspan></text></g>
<rect x="303.7" y="318.5" width="74.7" height="74.3" fill="none" stroke="#9a9a9a" stroke-width="1"/>
<path d="M304.5,392.8 L307,388.2 L309.4,375.1 L311.9,358.8 L314.3,340.8 L316.3,327.7 L317.6,323.6 L318.9,327.7 L320.6,340.8 L322.5,358.8 L324.5,375.1 L326.6,384.9 L329.1,390.6 L330.7,392.8 L330.7,392.8 L304.5,392.8Z" fill="#d6d6d6"/>
<path d="M304.5,392.8 L306,391.6 L307.5,390.5 L308.2,389.1 L308.9,387.7 L309.6,386.6 L310.3,385.5 L310.7,384.1 L311,382.8 L311.3,381.1 L311.7,379.7 L312,378.7 L312.3,377.5 L312.7,375.7 L312.9,374.2 L313.2,373.5 L313.5,372 L313.8,370.1 L314.1,369 L314.4,368.1 L314.7,366.7 L315,365.3 L315.2,364.2 L315.5,362.4 L315.8,361.3 L316.1,360 L316.4,358.1 L316.7,357.5 L317,356.2 L317.3,354.9 L317.6,353.4 L317.9,352 L318.2,349.3 L318.5,349.7 L318.8,348.2 L319.1,346.2 L319.5,345.1 L319.8,343.9 L320,341.6 L320.3,341.1 L320.6,339.3 L320.9,338.3 L321.2,337 L321.4,336.1 L321.7,334.4 L321.9,333.4 L322.1,331.1 L322.3,329.8 L322.6,329 L322.8,327.1 L323.1,325.5 L323.4,324 L324.1,324.3 L324.8,325.9 L325.6,326.7 L326.2,327.9 L326.7,329.5 L327.9,330.7 L329,329 L329.4,330.3 L329.8,331.4 L330.2,333 L331.3,335.3 L331.6,336.3 L331.9,337.9 L332.2,339.7 L332.5,341.1 L333.4,343.4 L334.2,344.5 L334.5,346.2 L334.8,347.8 L335.1,348.2 L335.4,350.3 L335.8,351.8 L336.2,353.5 L336.7,354.8 L337.1,356.1 L337.7,356.8 L338.3,359.5 L338.7,360.7 L339,362.7 L339.4,364.2 L339.8,365.8 L340.2,366.8 L340.6,368.8 L341,370.3 L341.4,371.5 L341.9,372.7 L342.3,374.5 L342.7,375.2 L343.2,376.8 L343.6,378.1 L344,380.3 L344.9,382.4 L345.8,383.8 L346.5,385.5 L347.3,385.9 L348.1,387.2 L349.2,388.7 L350.4,390.1 L351.5,391.3 L352.7,392.4 L354.4,392.8 L355.7,392.8 L357,392.8 L358.3,392.8 L359.6,392.8 L360.9,392.8 L362.2,392.8 L363.6,392.8 L364.9,392.8 L366.2,392.8 L367.5,392.8 L368.8,392.8 L370.1,392.8 L371.4,392.8 L372.7,392.8 L374,392.8 L375.3,392.8 L376.6,392.8 L377.9,392.8" fill="none" stroke="#7a7a7a" stroke-width="1.2" stroke-linejoin="round"/>
<path d="M304.5,392.8 L305.8,391.7 L307.1,390.7 L307.8,389.4 L308.6,388 L309.3,387.7 L310,386.1 L310.6,384.5 L311.2,382.6 L311.4,381.6 L311.6,379.8 L311.9,378.6 L312.1,376.9 L312.4,376 L312.6,375.1 L312.9,373.4 L313.1,371.5 L313.4,370.1 L313.6,369 L313.9,368.4 L314.1,366.5 L314.4,366.4 L314.6,364.2 L314.9,362.9 L315.1,361.4 L315.4,360 L315.6,358.9 L315.9,357.4 L316.1,356 L316.3,354.9 L316.6,354 L316.8,351.9 L317.1,350.5 L317.3,349.6 L317.6,347.8 L317.8,346.3 L318.1,345.7 L318.3,344.2 L318.6,342.6 L318.8,342.6 L319.1,340.8 L319.3,339 L319.6,338.2 L319.8,336.5 L320.2,335.7 L320.5,333.4 L320.8,332.4 L321.2,331.1 L321.5,329.5 L321.8,328.6 L322.1,326.7 L322.4,326.1 L322.7,324.3 L323.3,322.6 L323.7,324.4 L324.1,326.1 L324.4,327.7 L324.7,329.3 L325,330.7 L325.5,332.4 L325.9,334.2 L326.3,336.1 L326.7,337.6 L327.5,339.3 L328,341.1 L328.5,342.2 L328.9,343.9 L329.3,345.7 L329.8,346.3 L330.2,348 L330.8,349.8 L331.3,351.4 L331.9,352.6 L332.5,354.9 L333.1,356 L333.7,357.2 L334.1,358.6 L334.5,360 L335,361.7 L335.4,363 L335.8,364.3 L336.2,365.3 L336.7,367.2 L337.1,368.8 L337.5,369.8 L338,370.5 L338.4,372.3 L338.8,374.5 L339.3,375.9 L339.7,377.3 L340.1,378.6 L340.6,380.3 L341.3,381 L342.1,382.7 L342.9,384.9 L343.8,386.3 L344.8,387.3 L345.8,388.4 L346.9,389.2 L348.1,390 L349.2,390.7 L350.4,391.5 L351.5,392.4 L353.8,392.8 L355.2,392.8 L356.5,392.8 L357.9,392.8 L359.2,392.8 L360.5,392.8 L361.9,392.8 L363.2,392.8 L364.5,392.8 L365.9,392.8 L367.2,392.8 L368.5,392.8 L369.9,392.8 L371.2,392.8 L372.6,392.8 L373.9,392.8 L375.2,392.8 L376.6,392.8 L377.9,392.8" fill="none" stroke="#161616" stroke-width="1.25" stroke-linejoin="round"/>
<path d="M302.1,392.8H303.7M302.8,385.7H303.7M302.1,378.7H303.7M302.8,371.6H303.7M302.1,364.6H303.7M302.8,357.5H303.7M302.1,350.4H303.7M302.8,343.4H303.7M302.1,336.3H303.7M302.8,329.3H303.7M302.1,322.2H303.7M312.1,392.8V394.4M319.2,392.8V394.4M337.2,392.8V394.4M354.3,392.8V394.4M370.8,392.8V394.4" stroke="#666" stroke-width="0.7" fill="none"/>
<g font-size="3.1" font-weight="bold" fill="#666"><text x="300.3" y="393.9" text-anchor="end">0</text><text x="300.3" y="379.8" text-anchor="end">20</text><text x="300.3" y="365.7" text-anchor="end">40</text><text x="300.3" y="351.5" text-anchor="end">60</text><text x="300.3" y="337.4" text-anchor="end">80</text><text x="300.3" y="323.3" text-anchor="end">100</text><text x="312" y="400.1" text-anchor="middle">0</text><text x="319.1" y="400.1" text-anchor="middle">10<tspan dy="-1.1" font-size="2.2">2</tspan></text><text x="337.1" y="400.1" text-anchor="middle">10<tspan dy="-1.1" font-size="2.2">3</tspan></text><text x="354.2" y="400.1" text-anchor="middle">10<tspan dy="-1.1" font-size="2.2">4</tspan></text><text x="370.7" y="400.1" text-anchor="middle">10<tspan dy="-1.1" font-size="2.2">5</tspan></text></g>
<rect x="303.7" y="405.6" width="74.7" height="74.6" fill="none" stroke="#9a9a9a" stroke-width="1"/>
<path d="M304.5,480.1 L307,475.2 L309.4,462.1 L311.9,445.8 L314.3,429.4 L316.3,419.6 L317.9,416.3 L319.2,421.2 L320.9,432.7 L322.5,445.8 L324.2,458.8 L325.8,470.3 L327.4,476.8 L329.9,480.1 L329.9,480.2 L304.5,480.2Z" fill="#d6d6d6"/>
<path d="M304.5,480.1 L305.5,478.5 L306.5,476.8 L306.8,475.6 L307,474.4 L307.3,473.1 L307.6,471.9 L307.9,470.8 L308.1,469.2 L308.4,467.9 L308.7,467.4 L309,465.4 L309.2,463.5 L309.4,462.5 L309.6,461.9 L309.8,459.3 L310,458.9 L310.2,457.1 L310.4,455.8 L310.6,454.7 L310.8,454.1 L311,451.9 L311.2,450.7 L311.4,449 L311.6,448.2 L311.8,446.2 L312,445.4 L312.2,444.2 L312.4,442.3 L312.6,441.3 L312.8,440.3 L313,438.1 L313.2,436.8 L313.4,435.4 L313.7,434 L313.9,432.7 L314.1,431.1 L314.3,430.3 L314.5,428.2 L314.7,426.4 L314.9,425.3 L315.1,424.2 L315.3,422.2 L315.5,421.2 L315.8,419.3 L316.1,417.3 L316.5,417 L316.8,416.1 L317.1,413.9 L317.5,413.3 L317.9,411 L318.3,410.1 L319.6,410.6 L320.1,412.5 L320.6,413.1 L320.9,415.3 L321.2,415.3 L321.5,418 L321.8,419.3 L322.1,420.8 L322.3,421.2 L322.6,423.7 L322.8,424.5 L323.1,426.4 L323.3,426.7 L323.5,429 L323.8,430.6 L324,430.9 L324.2,433.4 L324.5,434.3 L324.7,435.5 L325,437.3 L325.2,438.2 L325.5,439.9 L325.7,441.4 L326,443.2 L326.2,444.2 L326.4,445.8 L326.7,446.7 L327,449.1 L327.3,449.5 L327.5,450.8 L327.8,452.2 L328.1,453.9 L328.5,455.2 L328.9,456.7 L329.3,458.3 L329.6,459.4 L330,461.3 L330.5,462.6 L331,463.6 L331.5,464.5 L332,466.2 L332.7,468.5 L333.3,469.5 L334,470.6 L334.7,472.2 L335.5,473.1 L336.2,475.2 L337.2,476.2 L338.2,477.4 L339.2,478.5 L340.8,479.3 L342.5,480.1 L343.8,480.1 L345.1,480.1 L346.4,480.1 L347.7,480.1 L349,480.1 L350.3,480.1 L351.6,480.1 L353,480.1 L354.3,480.1 L355.6,480.1 L356.9,480.1 L358.2,480.1 L359.5,480.1 L360.8,480.1 L362.1,480.1 L363.5,480.1 L364.8,480.1 L366.1,480.1 L367.4,480.1 L368.7,480.1 L370,480.1 L371.3,480.1 L372.6,480.1 L374,480.1 L375.3,480.1 L376.6,480.1 L377.9,480.1" fill="none" stroke="#7a7a7a" stroke-width="1.2" stroke-linejoin="round"/>
<path d="M304.5,480.1 L305.4,478.4 L306.2,476.8 L306.4,475.7 L306.7,473.9 L307,473.1 L307.3,471.6 L307.5,470.1 L307.8,469.2 L308.1,467.5 L308.4,466.5 L308.6,465.4 L308.8,464.1 L309,462.4 L309.2,461.3 L309.4,459.7 L309.6,458.9 L309.9,457.6 L310.1,456.4 L310.3,454.3 L310.5,452.7 L310.7,451.9 L310.9,450.6 L311.1,449 L311.3,447.1 L311.5,446.5 L311.7,445.4 L311.9,443.7 L312.1,442.2 L312.3,440.8 L312.5,439.7 L312.7,438.2 L312.9,436.4 L313.1,435.6 L313.3,434.1 L313.5,432.7 L313.7,432 L313.9,429.5 L314.1,428.8 L314.3,426.3 L314.6,425.3 L314.8,423.8 L315,422.4 L315.2,421.2 L315.5,420.4 L315.8,418.7 L316.1,417.6 L316.5,415.5 L316.8,414.7 L317.1,413.3 L317.3,412 L317.6,410.6 L318.9,409.8 L320.1,411.4 L320.3,413.5 L320.6,415.2 L320.9,416.3 L321.1,418.1 L321.4,418.8 L321.7,420.1 L321.9,422.4 L322.2,422.9 L322.4,424.4 L322.7,426.4 L322.9,427.8 L323.1,428.6 L323.4,430 L323.6,430.7 L323.8,432.7 L324.1,434.5 L324.3,435.4 L324.6,437.5 L324.8,438.7 L325.1,439.7 L325.3,440.7 L325.5,442.8 L325.8,444.1 L326.1,446.1 L326.3,447 L326.6,449.3 L326.9,449.4 L327.2,451.1 L327.4,452.3 L327.8,454.4 L328.1,455.6 L328.4,456.1 L328.7,457.2 L329.1,458.3 L329.4,460.5 L329.9,461.8 L330.4,462.3 L331,464.4 L331.5,465.4 L332,466.9 L332.6,468 L333.1,468.6 L333.6,470.3 L334.2,471.3 L334.8,473.1 L335.4,474 L335.9,475.2 L336.9,476.3 L337.9,477.4 L338.9,478.5 L340.5,479.3 L342.1,480.1 L343.5,480.1 L344.8,480.1 L346.1,480.1 L347.4,480.1 L348.8,480.1 L350.1,480.1 L351.4,480.1 L352.7,480.1 L354.1,480.1 L355.4,480.1 L356.7,480.1 L358,480.1 L359.4,480.1 L360.7,480.1 L362,480.1 L363.3,480.1 L364.7,480.1 L366,480.1 L367.3,480.1 L368.6,480.1 L370,480.1 L371.3,480.1 L372.6,480.1 L373.9,480.1 L375.3,480.1 L376.6,480.1 L377.9,480.1" fill="none" stroke="#161616" stroke-width="1.25" stroke-linejoin="round"/>
<path d="M302.1,480.2H303.7M302.8,473.1H303.7M302.1,466H303.7M302.8,458.9H303.7M302.1,451.9H303.7M302.8,444.8H303.7M302.1,437.7H303.7M302.8,430.6H303.7M302.1,423.5H303.7M302.8,416.4H303.7M302.1,409.3H303.7M312.1,480.2V481.8M319.2,480.2V481.8M337.2,480.2V481.8M354.3,480.2V481.8M370.8,480.2V481.8" stroke="#666" stroke-width="0.7" fill="none"/>
<g font-size="3.1" font-weight="bold" fill="#666"><text x="300.3" y="481.3" text-anchor="end">0</text><text x="300.3" y="467.1" text-anchor="end">20</text><text x="300.3" y="453" text-anchor="end">40</text><text x="300.3" y="438.8" text-anchor="end">60</text><text x="300.3" y="424.6" text-anchor="end">80</text><text x="300.3" y="410.4" text-anchor="end">100</text><text x="312" y="487.5" text-anchor="middle">0</text><text x="319.1" y="487.5" text-anchor="middle">10<tspan dy="-1.1" font-size="2.2">2</tspan></text><text x="337.1" y="487.5" text-anchor="middle">10<tspan dy="-1.1" font-size="2.2">3</tspan></text><text x="354.2" y="487.5" text-anchor="middle">10<tspan dy="-1.1" font-size="2.2">4</tspan></text><text x="370.7" y="487.5" text-anchor="middle">10<tspan dy="-1.1" font-size="2.2">5</tspan></text></g>
<rect x="442.4" y="59.3" width="74.4" height="74.8" fill="none" stroke="#9a9a9a" stroke-width="1"/>
<path d="M442.9,134 L442.9,130 L443.4,128.4 L445,130 L446.6,126 L448.2,122 L449.4,120.4 L450.6,125.2 L452.2,120.4 L453.8,110.9 L455.4,102.9 L457,98.1 L458.5,90.1 L460.1,86.9 L461.3,83.7 L462.5,69.4 L463.3,64.6 L464.5,71 L465.4,69.4 L466.5,78.9 L467.6,86.9 L468.9,96.5 L470.2,107.7 L471.3,118.8 L472.4,126.8 L473.7,131.6 L475.3,134 L475.3,134.1 L442.9,134.1Z" fill="#bfbfbf"/>
<path d="M442.9,123.6 L443.1,130 L444.2,132.4 L445.8,131.6 L447.4,132.4 L449,131.3 L450.6,132.9 L452.2,131.6 L453.8,130 L455.4,129.2 L457,128.4 L459.3,126.8 L461.7,125.2 L463.3,123.6 L465.4,121.2 L467,120.4 L468.1,115.7 L469.7,109.3 L471.3,101.3 L472.4,94.9 L474,89.3 L475.6,86.1 L476.9,78.9 L478.2,74.2 L479,64.6 L479.8,71 L480.4,83.7 L481.7,88.5 L483.3,91.7 L484.1,98.1 L484.9,107.7 L485.7,115.7 L486.8,122 L488.1,127.6 L489.7,131.3 L492.1,133.5 L494.5,134 L516,134" fill="none" stroke="#161616" stroke-width="1.25" stroke-linejoin="round"/>
<path d="M440.8,134.1H442.4M441.5,127H442.4M440.8,119.9H442.4M441.5,112.8H442.4M440.8,105.7H442.4M441.5,98.6H442.4M440.8,91.5H442.4M441.5,84.4H442.4M440.8,77.3H442.4M441.5,70.1H442.4M440.8,63H442.4M450.8,134.1V135.7M457.9,134.1V135.7M475.9,134.1V135.7M493,134.1V135.7M509.5,134.1V135.7" stroke="#666" stroke-width="0.7" fill="none"/>
<g font-size="3.1" font-weight="bold" fill="#666"><text x="439" y="135.2" text-anchor="end">0</text><text x="439" y="121" text-anchor="end">20</text><text x="439" y="106.8" text-anchor="end">40</text><text x="439" y="92.6" text-anchor="end">60</text><text x="439" y="78.4" text-anchor="end">80</text><text x="439" y="64.1" text-anchor="end">100</text><text x="450.7" y="141.4" text-anchor="middle">0</text><text x="457.8" y="141.4" text-anchor="middle">10<tspan dy="-1.1" font-size="2.2">2</tspan></text><text x="475.8" y="141.4" text-anchor="middle">10<tspan dy="-1.1" font-size="2.2">3</tspan></text><text x="492.9" y="141.4" text-anchor="middle">10<tspan dy="-1.1" font-size="2.2">4</tspan></text><text x="509.4" y="141.4" text-anchor="middle">10<tspan dy="-1.1" font-size="2.2">5</tspan></text></g>
<rect x="442.4" y="145.7" width="74.4" height="74.9" fill="none" stroke="#9a9a9a" stroke-width="1"/>
<path d="M442.9,220.2 L442.9,198.5 L443.4,196.9 L445,192.1 L446.6,188.9 L448.2,184.1 L449.8,179.3 L451.4,176.1 L453,172.9 L454.6,166.5 L456.2,158.6 L457.8,153 L459.3,150.6 L460.6,153.8 L461.7,160.2 L462.9,169.7 L464.1,182.5 L465.4,195.3 L466.5,204.8 L467.6,212.8 L468.9,217.6 L470.5,220.2 L470.5,220.6 L442.9,220.6Z" fill="#bfbfbf"/>
<path d="M442.9,220.2 L445,219.5 L447.4,219.2 L449.8,220 L452.2,218.9 L454.6,217.6 L457,216 L459.3,215.2 L460.9,211.2 L462.5,206.4 L464.1,204.8 L465.4,196.9 L466.5,184.1 L467.6,177.7 L468.9,168.1 L470.2,164.1 L471.3,160.2 L472.1,153.8 L472.9,157 L473.7,152.2 L474.5,150.6 L475.3,161.8 L476.1,169.7 L476.9,172.9 L478.2,180.9 L479.3,192.1 L480.4,201.7 L481.7,208 L483,204.8 L484.1,206.4 L484.9,211.2 L486.2,215.2 L487.8,217.6 L489.4,219.5 L491.3,220.2 L516,220.2" fill="none" stroke="#161616" stroke-width="1.25" stroke-linejoin="round"/>
<path d="M440.8,220.6H442.4M441.5,213.5H442.4M440.8,206.4H442.4M441.5,199.3H442.4M440.8,192.1H442.4M441.5,185H442.4M440.8,177.9H442.4M441.5,170.8H442.4M440.8,163.7H442.4M441.5,156.6H442.4M440.8,149.4H442.4M450.8,220.6V222.2M457.9,220.6V222.2M475.9,220.6V222.2M493,220.6V222.2M509.5,220.6V222.2" stroke="#666" stroke-width="0.7" fill="none"/>
<g font-size="3.1" font-weight="bold" fill="#666"><text x="439" y="221.7" text-anchor="end">0</text><text x="439" y="207.5" text-anchor="end">20</text><text x="439" y="193.2" text-anchor="end">40</text><text x="439" y="179" text-anchor="end">60</text><text x="439" y="164.8" text-anchor="end">80</text><text x="439" y="150.5" text-anchor="end">100</text><text x="450.7" y="227.9" text-anchor="middle">0</text><text x="457.8" y="227.9" text-anchor="middle">10<tspan dy="-1.1" font-size="2.2">2</tspan></text><text x="475.8" y="227.9" text-anchor="middle">10<tspan dy="-1.1" font-size="2.2">3</tspan></text><text x="492.9" y="227.9" text-anchor="middle">10<tspan dy="-1.1" font-size="2.2">4</tspan></text><text x="509.4" y="227.9" text-anchor="middle">10<tspan dy="-1.1" font-size="2.2">5</tspan></text></g>
<rect x="442.4" y="231.8" width="74.4" height="74.4" fill="none" stroke="#9a9a9a" stroke-width="1"/>
<path d="M442.9,306 L442.9,287.7 L443.7,284.5 L445,276.5 L446.6,273.3 L448.2,268.5 L449.8,263.7 L451.4,260.5 L453,257.3 L454.6,250.9 L456.2,244.6 L457.4,239 L458.5,236.6 L459.7,238.2 L460.9,243 L462.2,252.5 L463.3,263.7 L464.5,276.5 L465.7,289.2 L467,297.2 L468.1,302 L469.7,306 L469.7,306.2 L442.9,306.2Z" fill="#bfbfbf"/>
<path d="M442.9,302 L443.7,301.2 L445,302.8 L446.6,302 L448.2,300.4 L449.8,298.8 L452.2,295.6 L454.6,292.4 L457,287.7 L459.3,281.3 L461.7,273.3 L464.1,263.7 L465.7,257.3 L467,249.3 L468.1,245.4 L469.2,247.8 L470.5,255.7 L471.3,246.2 L472.4,236.6 L473.4,243 L474.5,252.5 L475.3,249.3 L476.1,265.3 L477.2,254.1 L478.5,258.9 L479.5,265.3 L480.4,262.1 L481.4,268.5 L482.5,278.1 L483.3,276.5 L484.6,286.1 L485.7,290.8 L487.3,294 L488.9,297.2 L490.9,301.2 L492.9,304.4 L495.3,306 L516,305.5" fill="none" stroke="#161616" stroke-width="1.25" stroke-linejoin="round"/>
<path d="M440.8,306.2H442.4M441.5,299.1H442.4M440.8,292.1H442.4M441.5,285H442.4M440.8,277.9H442.4M441.5,270.9H442.4M440.8,263.8H442.4M441.5,256.7H442.4M440.8,249.7H442.4M441.5,242.6H442.4M440.8,235.5H442.4M450.8,306.2V307.8M457.9,306.2V307.8M475.9,306.2V307.8M493,306.2V307.8M509.5,306.2V307.8" stroke="#666" stroke-width="0.7" fill="none"/>
<g font-size="3.1" font-weight="bold" fill="#666"><text x="439" y="307.3" text-anchor="end">0</text><text x="439" y="293.2" text-anchor="end">20</text><text x="439" y="279" text-anchor="end">40</text><text x="439" y="264.9" text-anchor="end">60</text><text x="439" y="250.8" text-anchor="end">80</text><text x="439" y="236.6" text-anchor="end">100</text><text x="450.7" y="313.5" text-anchor="middle">0</text><text x="457.8" y="313.5" text-anchor="middle">10<tspan dy="-1.1" font-size="2.2">2</tspan></text><text x="475.8" y="313.5" text-anchor="middle">10<tspan dy="-1.1" font-size="2.2">3</tspan></text><text x="492.9" y="313.5" text-anchor="middle">10<tspan dy="-1.1" font-size="2.2">4</tspan></text><text x="509.4" y="313.5" text-anchor="middle">10<tspan dy="-1.1" font-size="2.2">5</tspan></text></g>
<rect x="442.4" y="319.1" width="74.4" height="74.3" fill="none" stroke="#9a9a9a" stroke-width="1"/>
<path d="M442.9,393.3 L444.2,390.6 L446.6,387.4 L449,384.2 L451.4,381 L453.8,374.7 L455.8,366.7 L457.4,360.3 L459,353.9 L460.6,347.5 L462.2,344.3 L463.3,337.9 L464.5,328.4 L465.4,323.6 L466.5,330 L467.6,342.7 L468.9,358.7 L470.2,371.5 L471.5,381 L472.9,387.4 L474.5,391.4 L476.1,393.3 L476.1,393.4 L442.9,393.4Z" fill="#bfbfbf"/>
<path d="M442.9,392.2 L444.2,390.9 L445.8,392.2 L447.4,391.4 L449,392.5 L450.6,389.8 L453,388.2 L455.4,386.6 L457.8,382.6 L460.1,377.8 L461.7,373.1 L462.9,365.1 L464.5,360.3 L465.7,352.3 L466.5,344.3 L467.3,347.5 L468.1,341.1 L468.9,333.2 L469.7,326.8 L470.2,323.6 L471,330 L472.1,333.2 L473.4,334.8 L474.5,337.9 L475.6,342.7 L476.6,345.9 L477.2,342.7 L478.5,343.5 L479.3,349.1 L480.4,355.5 L481.7,357.1 L483,361.9 L484.1,368.3 L485.2,374.7 L486.5,381 L488.1,385.8 L490,389 L492.1,391.4 L494.5,393 L497.7,393.3 L516,393.3" fill="none" stroke="#161616" stroke-width="1.25" stroke-linejoin="round"/>
<path d="M440.8,393.4H442.4M441.5,386.3H442.4M440.8,379.3H442.4M441.5,372.2H442.4M440.8,365.2H442.4M441.5,358.1H442.4M440.8,351H442.4M441.5,344H442.4M440.8,336.9H442.4M441.5,329.9H442.4M440.8,322.8H442.4M450.8,393.4V395M457.9,393.4V395M475.9,393.4V395M493,393.4V395M509.5,393.4V395" stroke="#666" stroke-width="0.7" fill="none"/>
<g font-size="3.1" font-weight="bold" fill="#666"><text x="439" y="394.5" text-anchor="end">0</text><text x="439" y="380.4" text-anchor="end">20</text><text x="439" y="366.3" text-anchor="end">40</text><text x="439" y="352.1" text-anchor="end">60</text><text x="439" y="338" text-anchor="end">80</text><text x="439" y="323.9" text-anchor="end">100</text><text x="450.7" y="400.7" text-anchor="middle">0</text><text x="457.8" y="400.7" text-anchor="middle">10<tspan dy="-1.1" font-size="2.2">2</tspan></text><text x="475.8" y="400.7" text-anchor="middle">10<tspan dy="-1.1" font-size="2.2">3</tspan></text><text x="492.9" y="400.7" text-anchor="middle">10<tspan dy="-1.1" font-size="2.2">4</tspan></text><text x="509.4" y="400.7" text-anchor="middle">10<tspan dy="-1.1" font-size="2.2">5</tspan></text></g>
<rect x="442.4" y="405.8" width="74.4" height="74.8" fill="none" stroke="#9a9a9a" stroke-width="1"/>
<path d="M442.9,480.3 L443.1,453.7 L443.7,468 L445,474.4 L446.6,473.6 L448.2,471.2 L450.6,468 L453,464.8 L455.4,460.1 L457,445.7 L458.5,440.9 L460.1,432.9 L461.3,434.5 L462.5,429.7 L464.1,421.8 L465.7,417 L467,410.6 L468.1,413.8 L469.2,426.5 L470.5,436.1 L471.8,452.1 L472.9,464.8 L474,474.4 L475.3,479.2 L476.9,480.3 L476.9,480.6 L442.9,480.6Z" fill="#bfbfbf"/>
<path d="M442.9,452.1 L443.4,468 L444.2,474.4 L445.8,476 L447.4,474.4 L449,470.4 L450.6,468 L452.2,466.4 L453.8,464 L455.4,461.7 L457,458.5 L458.1,455.3 L459.3,447.3 L460.6,440.9 L461.7,437.7 L462.9,432.9 L463.8,426.5 L464.9,420.2 L466.1,415.4 L467.3,411.4 L468.1,415.4 L468.9,423.3 L469.7,426.5 L470.5,432.9 L471.3,442.5 L472.4,455.3 L473.7,466.4 L475,474.4 L476.6,478.4 L478.5,479.5 L481.7,480 L484.9,480 L516,480.3" fill="none" stroke="#161616" stroke-width="1.25" stroke-linejoin="round"/>
<path d="M440.8,480.6H442.4M441.5,473.5H442.4M440.8,466.4H442.4M441.5,459.3H442.4M440.8,452.2H442.4M441.5,445.1H442.4M440.8,438H442.4M441.5,430.9H442.4M440.8,423.8H442.4M441.5,416.6H442.4M440.8,409.5H442.4M450.8,480.6V482.2M457.9,480.6V482.2M475.9,480.6V482.2M493,480.6V482.2M509.5,480.6V482.2" stroke="#666" stroke-width="0.7" fill="none"/>
<g font-size="3.1" font-weight="bold" fill="#666"><text x="439" y="481.7" text-anchor="end">0</text><text x="439" y="467.5" text-anchor="end">20</text><text x="439" y="453.3" text-anchor="end">40</text><text x="439" y="439.1" text-anchor="end">60</text><text x="439" y="424.9" text-anchor="end">80</text><text x="439" y="410.6" text-anchor="end">100</text><text x="450.7" y="487.9" text-anchor="middle">0</text><text x="457.8" y="487.9" text-anchor="middle">10<tspan dy="-1.1" font-size="2.2">2</tspan></text><text x="475.8" y="487.9" text-anchor="middle">10<tspan dy="-1.1" font-size="2.2">3</tspan></text><text x="492.9" y="487.9" text-anchor="middle">10<tspan dy="-1.1" font-size="2.2">4</tspan></text><text x="509.4" y="487.9" text-anchor="middle">10<tspan dy="-1.1" font-size="2.2">5</tspan></text></g>
<rect x="444.1" y="491.3" width="72.7" height="70" fill="none" stroke="#9a9a9a" stroke-width="1"/>
<path d="M444.6,561 L444.7,554.6 L445.8,553.8 L447.4,554.6 L449,553 L450.6,549.8 L451.7,547.5 L452.6,551.4 L453.8,549.8 L455.4,540.3 L457,532.3 L458.5,527.5 L460.1,522.7 L461.7,514.7 L462.9,509.9 L464.1,498.8 L464.9,497.2 L465.7,502 L466.7,503.6 L467.6,509.9 L468.9,517.9 L470.2,527.5 L471.3,538.7 L472.1,549.8 L473.4,556.2 L474.5,560.2 L475.3,561 L475.3,561.3 L444.6,561.3Z" fill="#bfbfbf"/>
<path d="M444.6,561 L446.6,560.7 L449.8,561 L453,560.7 L456.2,560.4 L459.3,560.2 L462.5,560.7 L465.7,559.4 L468.1,557.8 L469.7,554.6 L470.8,551.4 L472.1,545.1 L473.4,537.1 L474.5,527.5 L475.6,517.9 L476.6,508.3 L477.2,502 L478.2,498.8 L478.8,497.2 L479.5,495.6 L480.1,500.4 L481.1,503.6 L482,508.3 L483.3,509.9 L484.2,519.5 L485.2,525.9 L486.2,533.9 L487.1,543.5 L488.1,546.7 L489.4,551.4 L490.5,554.6 L492.1,558.6 L493.7,560.2 L496.1,561 L516,561" fill="none" stroke="#161616" stroke-width="1.25" stroke-linejoin="round"/>
<path d="M442.5,561.3H444.1M443.2,554.6H444.1M442.5,548H444.1M443.2,541.4H444.1M442.5,534.7H444.1M443.2,528H444.1M442.5,521.4H444.1M443.2,514.8H444.1M442.5,508.1H444.1M443.2,501.4H444.1M442.5,494.8H444.1M452.5,561.3V562.9M459.6,561.3V562.9M477.6,561.3V562.9M494.7,561.3V562.9M511.2,561.3V562.9" stroke="#666" stroke-width="0.7" fill="none"/>
<g font-size="3.1" font-weight="bold" fill="#666"><text x="440.7" y="562.4" text-anchor="end">0</text><text x="440.7" y="549.1" text-anchor="end">20</text><text x="440.7" y="535.8" text-anchor="end">40</text><text x="440.7" y="522.5" text-anchor="end">60</text><text x="440.7" y="509.2" text-anchor="end">80</text><text x="440.7" y="495.9" text-anchor="end">100</text><text x="452.4" y="568.6" text-anchor="middle">0</text><text x="459.5" y="568.6" text-anchor="middle">10<tspan dy="-1.1" font-size="2.2">2</tspan></text><text x="477.5" y="568.6" text-anchor="middle">10<tspan dy="-1.1" font-size="2.2">3</tspan></text><text x="494.6" y="568.6" text-anchor="middle">10<tspan dy="-1.1" font-size="2.2">4</tspan></text><text x="511.1" y="568.6" text-anchor="middle">10<tspan dy="-1.1" font-size="2.2">5</tspan></text></g>
<rect x="442.8" y="572.8" width="74" height="71.2" fill="none" stroke="#9a9a9a" stroke-width="1"/>
<path d="M443.3,643.8 L443.3,599.9 L444.2,598.3 L445.8,595.1 L446.9,588.8 L447.9,591.9 L449,599.9 L450.6,603.1 L452.2,599.9 L453.8,595.1 L454.9,587.2 L455.8,579.2 L456.6,576 L457.4,582.4 L458.5,588.8 L459.3,590.3 L460.9,593.5 L462.5,599.9 L464.1,611.1 L465.7,622.3 L467.3,630.2 L468.9,635 L470.5,640.6 L472.1,643.8 L472.1,644 L443.3,644Z" fill="#d4d4d4"/>
<path d="M443.3,633.4 L443.7,638.2 L444.7,641.4 L446.3,640.6 L447.9,641.4 L449.4,639.8 L451,639 L452.6,636.6 L453.8,633.4 L454.9,631.8 L455.8,635 L456.8,638.2 L457.8,635 L459.3,633.4 L460.9,630.2 L462.5,625.5 L463.3,619.1 L464.1,612.7 L464.9,615.9 L465.7,619.1 L466.5,606.3 L467.3,599.9 L468.1,607.9 L468.9,593.5 L469.7,585.6 L470.5,577.6 L471.3,580.8 L472.1,587.2 L472.9,585.6 L473.7,588.8 L474.5,588.8 L475.3,587.2 L476.1,598.3 L476.9,607.9 L477.7,614.3 L478.5,620.7 L479.3,628.7 L480.1,633.4 L481.4,635 L482.5,631.8 L483.6,631 L484.9,633.4 L486.5,635 L487.8,636.6 L488.9,635 L490.5,636.6 L492.1,635 L493.2,636.6 L494.5,639.8 L496.1,640.6 L497.7,641.4 L500,640.6 L501.6,641.4 L503.2,642.2 L504.8,643 L507.2,643.8 L510.4,643.5 L516,643.8" fill="none" stroke="#161616" stroke-width="1.25" stroke-linejoin="round"/>
<path d="M441.2,644H442.8M441.9,637.2H442.8M441.2,630.5H442.8M441.9,623.7H442.8M441.2,616.9H442.8M441.9,610.2H442.8M441.2,603.4H442.8M441.9,596.7H442.8M441.2,589.9H442.8M441.9,583.1H442.8M441.2,576.4H442.8M451.2,644V645.6M458.3,644V645.6M476.3,644V645.6M493.4,644V645.6M509.9,644V645.6" stroke="#666" stroke-width="0.7" fill="none"/>
<g font-size="3.1" font-weight="bold" fill="#666"><text x="439.4" y="645.1" text-anchor="end">0</text><text x="439.4" y="631.6" text-anchor="end">20</text><text x="439.4" y="618" text-anchor="end">40</text><text x="439.4" y="604.5" text-anchor="end">60</text><text x="439.4" y="591" text-anchor="end">80</text><text x="439.4" y="577.5" text-anchor="end">100</text><text x="451.1" y="651.3" text-anchor="middle">0</text><text x="458.2" y="651.3" text-anchor="middle">10<tspan dy="-1.1" font-size="2.2">2</tspan></text><text x="476.2" y="651.3" text-anchor="middle">10<tspan dy="-1.1" font-size="2.2">3</tspan></text><text x="493.3" y="651.3" text-anchor="middle">10<tspan dy="-1.1" font-size="2.2">4</tspan></text><text x="509.8" y="651.3" text-anchor="middle">10<tspan dy="-1.1" font-size="2.2">5</tspan></text></g>
</svg></body></html>
